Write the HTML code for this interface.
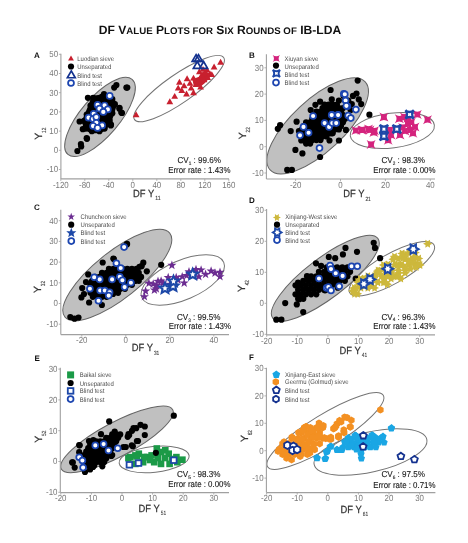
<!DOCTYPE html>
<html><head><meta charset="utf-8"><style>
html,body{margin:0;padding:0;background:#fff;}
body{width:468px;height:543px;overflow:hidden;}
svg{display:block;will-change:transform;}
text{font-family:"Liberation Sans",sans-serif;text-rendering:geometricPrecision;}
.ttl{font-family:"Liberation Sans",sans-serif;font-weight:bold;font-size:12px;fill:#111;}
.pl{font-weight:bold;font-size:8px;fill:#111;}
.tl{font-size:8.9px;fill:#7a7a7a;}
.tk{stroke:#a0a0a0;stroke-width:0.8;}
.ax{stroke:#a0a0a0;stroke-width:1.1;}
.at{font-size:10.4px;fill:#333;stroke:#333;stroke-width:0.25px;}
.sub{font-size:6px;fill:#3a3a3a;stroke:#3a3a3a;stroke-width:0.1px;}
.cv{font-size:8.7px;fill:#1a1a1a;stroke:#1a1a1a;stroke-width:0.12px;}
.csub{font-size:5px;}
.lg{font-size:6.7px;fill:#4a4a4a;}
</style></head><body>
<svg width="468" height="543" viewBox="0 0 468 543">
<rect width="468" height="543" fill="#fff"/>
<text x="98.7" y="34" class="ttl" textLength="242.5" lengthAdjust="spacingAndGlyphs">DF V<tspan font-size="9.6">ALUE</tspan> P<tspan font-size="9.6">LOTS FOR</tspan> S<tspan font-size="9.6">IX</tspan> R<tspan font-size="9.6">OUNDS OF</tspan> IB-LDA</text>
<ellipse cx="100" cy="116.9" rx="49.4" ry="19.3" transform="rotate(-49.5 100 116.9)" fill="#c0c0c0" stroke="#646464" stroke-width="1.0"/>
<ellipse cx="179.1" cy="88.6" rx="54.3" ry="14.1" transform="rotate(-34.85 179.1 88.6)" fill="none" stroke="#747474" stroke-width="1.0"/>
<path d="M93.1 97.8L102.1 96.5L112.3 99.1L114.9 104.2L112.3 113.2L109.7 120.9L104.6 128.6L99.5 131.2L91.8 131.2L85.4 128.6L84.1 120.9L86.7 114.5L90.5 105.5Z" fill="#000" stroke="#000" stroke-width="4" stroke-linejoin="round"/>
<circle cx="93.1" cy="97.8" r="3.1" fill="#000"/>
<circle cx="102.1" cy="96.5" r="3.1" fill="#000"/>
<circle cx="112.3" cy="99.1" r="3.1" fill="#000"/>
<circle cx="114.9" cy="104.2" r="3.1" fill="#000"/>
<circle cx="112.3" cy="113.2" r="3.1" fill="#000"/>
<circle cx="109.7" cy="120.9" r="3.1" fill="#000"/>
<circle cx="104.6" cy="128.6" r="3.1" fill="#000"/>
<circle cx="99.5" cy="131.2" r="3.1" fill="#000"/>
<circle cx="91.8" cy="131.2" r="3.1" fill="#000"/>
<circle cx="85.4" cy="128.6" r="3.1" fill="#000"/>
<circle cx="84.1" cy="120.9" r="3.1" fill="#000"/>
<circle cx="86.7" cy="114.5" r="3.1" fill="#000"/>
<circle cx="90.5" cy="105.5" r="3.1" fill="#000"/>
<circle cx="87.9" cy="97.8" r="3.1" fill="#000"/>
<circle cx="104.0" cy="94.0" r="3.1" fill="#000"/>
<circle cx="114.2" cy="87.6" r="3.1" fill="#000"/>
<circle cx="126.4" cy="87.6" r="3.1" fill="#000"/>
<circle cx="119.4" cy="108.7" r="3.1" fill="#000"/>
<circle cx="121.3" cy="112.6" r="3.1" fill="#000"/>
<circle cx="111.0" cy="124.7" r="3.1" fill="#000"/>
<circle cx="79.6" cy="121.5" r="3.1" fill="#000"/>
<circle cx="82.8" cy="129.2" r="3.1" fill="#000"/>
<circle cx="86.7" cy="138.2" r="3.1" fill="#000"/>
<circle cx="80.9" cy="144.0" r="3.1" fill="#000"/>
<circle cx="116.4" cy="85.1" r="3.1" fill="#000"/>
<circle cx="127.3" cy="87.6" r="3.1" fill="#000"/>
<circle cx="119.5" cy="107.8" r="3.1" fill="#000"/>
<circle cx="122" cy="113" r="3.1" fill="#000"/>
<circle cx="110.8" cy="125.4" r="3.1" fill="#000"/>
<circle cx="87" cy="138.8" r="3.1" fill="#000"/>
<circle cx="81.2" cy="146.5" r="3.1" fill="#000"/>
<circle cx="77.4" cy="151" r="3.1" fill="#000"/>
<circle cx="109.7" cy="95.9" r="3.0" fill="#fff" stroke="#1c45b0" stroke-width="1.7"/>
<circle cx="97.6" cy="104.9" r="3.0" fill="#fff" stroke="#1c45b0" stroke-width="1.7"/>
<circle cx="104.6" cy="105.5" r="3.0" fill="#fff" stroke="#1c45b0" stroke-width="1.7"/>
<circle cx="99.5" cy="108.7" r="3.0" fill="#fff" stroke="#1c45b0" stroke-width="1.7"/>
<circle cx="107.8" cy="109.4" r="3.0" fill="#fff" stroke="#1c45b0" stroke-width="1.7"/>
<circle cx="103.3" cy="111.9" r="3.0" fill="#fff" stroke="#1c45b0" stroke-width="1.7"/>
<circle cx="93.7" cy="113.8" r="3.0" fill="#fff" stroke="#1c45b0" stroke-width="1.7"/>
<circle cx="88.6" cy="117.7" r="3.0" fill="#fff" stroke="#1c45b0" stroke-width="1.7"/>
<circle cx="93.1" cy="119.0" r="3.0" fill="#fff" stroke="#1c45b0" stroke-width="1.7"/>
<circle cx="96.3" cy="117.1" r="3.0" fill="#fff" stroke="#1c45b0" stroke-width="1.7"/>
<circle cx="96.3" cy="122.8" r="3.0" fill="#fff" stroke="#1c45b0" stroke-width="1.7"/>
<circle cx="93.1" cy="126.0" r="3.0" fill="#fff" stroke="#1c45b0" stroke-width="1.7"/>
<circle cx="102.1" cy="125.4" r="3.0" fill="#fff" stroke="#1c45b0" stroke-width="1.7"/>
<circle cx="97.6" cy="127.9" r="3.0" fill="#fff" stroke="#1c45b0" stroke-width="1.7"/>
<path d="M193.5 80.0L199.4 77.6L203.5 72.4L208.2 73.5L208.8 77.6L204.1 82.4L200.6 85.3L194.7 85.3Z" fill="#c8202f" stroke="#c8202f" stroke-width="2" stroke-linejoin="round"/>
<path d="M136.10 111.27L139.50 117.16L132.70 117.16Z" fill="#c8202f"/>
<path d="M169.80 98.27L173.20 104.16L166.40 104.16Z" fill="#c8202f"/>
<path d="M174.70 92.97L178.10 98.86L171.30 98.86Z" fill="#c8202f"/>
<path d="M179.40 78.87L182.80 84.76L176.00 84.76Z" fill="#c8202f"/>
<path d="M178.20 84.67L181.60 90.56L174.80 90.56Z" fill="#c8202f"/>
<path d="M187.10 75.27L190.50 81.16L183.70 81.16Z" fill="#c8202f"/>
<path d="M193.50 74.67L196.90 80.56L190.10 80.56Z" fill="#c8202f"/>
<path d="M186.50 90.57L189.90 96.46L183.10 96.46Z" fill="#c8202f"/>
<path d="M193.50 89.37L196.90 95.26L190.10 95.26Z" fill="#c8202f"/>
<path d="M184.10 82.37L187.50 88.26L180.70 88.26Z" fill="#c8202f"/>
<path d="M190.00 79.97L193.40 85.86L186.60 85.86Z" fill="#c8202f"/>
<path d="M195.90 81.17L199.30 87.06L192.50 87.06Z" fill="#c8202f"/>
<path d="M200.60 83.57L204.00 89.46L197.20 89.46Z" fill="#c8202f"/>
<path d="M198.20 77.67L201.60 83.56L194.80 83.56Z" fill="#c8202f"/>
<path d="M201.80 71.77L205.20 77.66L198.40 77.66Z" fill="#c8202f"/>
<path d="M205.30 69.37L208.70 75.26L201.90 75.26Z" fill="#c8202f"/>
<path d="M207.60 74.07L211.00 79.96L204.20 79.96Z" fill="#c8202f"/>
<path d="M204.10 76.47L207.50 82.36L200.70 82.36Z" fill="#c8202f"/>
<path d="M210.00 70.57L213.40 76.46L206.60 76.46Z" fill="#c8202f"/>
<path d="M211.80 71.17L215.20 77.06L208.40 77.06Z" fill="#c8202f"/>
<path d="M214.10 63.57L217.50 69.46L210.70 69.46Z" fill="#c8202f"/>
<path d="M220.60 58.87L224.00 64.76L217.20 64.76Z" fill="#c8202f"/>
<path d="M199.40 68.27L202.80 74.16L196.00 74.16Z" fill="#c8202f"/>
<path d="M191.20 84.67L194.60 90.56L187.80 90.56Z" fill="#c8202f"/>
<path d="M181.80 87.07L185.20 92.96L178.40 92.96Z" fill="#c8202f"/>
<path d="M207.00 66.47L210.40 72.36L203.60 72.36Z" fill="#c8202f"/>
<path d="M203.00 65.97L206.40 71.86L199.60 71.86Z" fill="#c8202f"/>
<path d="M196.10 54.60L200.05 61.44L192.15 61.44Z" fill="none" stroke="#13318f" stroke-width="1.7" stroke-linejoin="miter"/>
<path d="M198.50 54.60L202.45 61.44L194.55 61.44Z" fill="none" stroke="#13318f" stroke-width="1.7" stroke-linejoin="miter"/>
<path d="M197.30 61.50L201.25 68.34L193.35 68.34Z" fill="none" stroke="#13318f" stroke-width="1.7" stroke-linejoin="miter"/>
<path d="M203.60 61.50L207.55 68.34L199.65 68.34Z" fill="none" stroke="#13318f" stroke-width="1.7" stroke-linejoin="miter"/>
<path d="M71.00 55.59L73.90 60.61L68.10 60.61Z" fill="#c8202f"/>
<circle cx="71" cy="66.5" r="3.1" fill="#000"/>
<path d="M71.30 70.90L75.25 77.74L67.35 77.74Z" fill="none" stroke="#13318f" stroke-width="1.7" stroke-linejoin="miter"/>
<circle cx="71" cy="83" r="2.95" fill="#fff" stroke="#1c45b0" stroke-width="1.75"/>
<text x="77.3" y="61.1" class="lg" textLength="36.7" lengthAdjust="spacingAndGlyphs">Luodian sieve</text>
<text x="77.3" y="69.0" class="lg" textLength="34.1" lengthAdjust="spacingAndGlyphs">Unseparated</text>
<text x="77.3" y="77.5" class="lg" textLength="24.5" lengthAdjust="spacingAndGlyphs">Blind test</text>
<text x="77.3" y="85.5" class="lg" textLength="24.5" lengthAdjust="spacingAndGlyphs">Blind test</text>
<ellipse cx="317.65" cy="125.9" rx="64.8" ry="26" transform="rotate(-42.8 317.65 125.9)" fill="#c0c0c0" stroke="#646464" stroke-width="1.0"/>
<ellipse cx="392.3" cy="130.5" rx="42.4" ry="17.3" transform="rotate(-7.3 392.3 130.5)" fill="none" stroke="#747474" stroke-width="1.0"/>
<circle cx="324.6" cy="104.6" r="3.1" fill="#000"/>
<circle cx="328.7" cy="104.6" r="3.1" fill="#000"/>
<circle cx="332.8" cy="104.6" r="3.1" fill="#000"/>
<circle cx="336.9" cy="104.6" r="3.1" fill="#000"/>
<circle cx="322.5" cy="108.1" r="3.1" fill="#000"/>
<circle cx="326.6" cy="108.1" r="3.1" fill="#000"/>
<circle cx="330.7" cy="108.1" r="3.1" fill="#000"/>
<circle cx="334.8" cy="108.1" r="3.1" fill="#000"/>
<circle cx="338.9" cy="108.1" r="3.1" fill="#000"/>
<circle cx="343.0" cy="108.1" r="3.1" fill="#000"/>
<circle cx="316.4" cy="111.7" r="3.1" fill="#000"/>
<circle cx="320.5" cy="111.7" r="3.1" fill="#000"/>
<circle cx="324.6" cy="111.7" r="3.1" fill="#000"/>
<circle cx="328.7" cy="111.7" r="3.1" fill="#000"/>
<circle cx="332.8" cy="111.7" r="3.1" fill="#000"/>
<circle cx="336.9" cy="111.7" r="3.1" fill="#000"/>
<circle cx="341.0" cy="111.7" r="3.1" fill="#000"/>
<circle cx="314.3" cy="115.2" r="3.1" fill="#000"/>
<circle cx="318.4" cy="115.2" r="3.1" fill="#000"/>
<circle cx="322.5" cy="115.2" r="3.1" fill="#000"/>
<circle cx="326.6" cy="115.2" r="3.1" fill="#000"/>
<circle cx="330.7" cy="115.2" r="3.1" fill="#000"/>
<circle cx="334.8" cy="115.2" r="3.1" fill="#000"/>
<circle cx="338.9" cy="115.2" r="3.1" fill="#000"/>
<circle cx="343.0" cy="115.2" r="3.1" fill="#000"/>
<circle cx="312.3" cy="118.8" r="3.1" fill="#000"/>
<circle cx="316.4" cy="118.8" r="3.1" fill="#000"/>
<circle cx="320.5" cy="118.8" r="3.1" fill="#000"/>
<circle cx="324.6" cy="118.8" r="3.1" fill="#000"/>
<circle cx="328.7" cy="118.8" r="3.1" fill="#000"/>
<circle cx="332.8" cy="118.8" r="3.1" fill="#000"/>
<circle cx="336.9" cy="118.8" r="3.1" fill="#000"/>
<circle cx="341.0" cy="118.8" r="3.1" fill="#000"/>
<circle cx="345.1" cy="118.8" r="3.1" fill="#000"/>
<circle cx="306.1" cy="122.3" r="3.1" fill="#000"/>
<circle cx="310.2" cy="122.3" r="3.1" fill="#000"/>
<circle cx="314.3" cy="122.3" r="3.1" fill="#000"/>
<circle cx="318.4" cy="122.3" r="3.1" fill="#000"/>
<circle cx="322.5" cy="122.3" r="3.1" fill="#000"/>
<circle cx="326.6" cy="122.3" r="3.1" fill="#000"/>
<circle cx="330.7" cy="122.3" r="3.1" fill="#000"/>
<circle cx="334.8" cy="122.3" r="3.1" fill="#000"/>
<circle cx="338.9" cy="122.3" r="3.1" fill="#000"/>
<circle cx="343.0" cy="122.3" r="3.1" fill="#000"/>
<circle cx="304.1" cy="125.9" r="3.1" fill="#000"/>
<circle cx="308.2" cy="125.9" r="3.1" fill="#000"/>
<circle cx="312.3" cy="125.9" r="3.1" fill="#000"/>
<circle cx="316.4" cy="125.9" r="3.1" fill="#000"/>
<circle cx="320.5" cy="125.9" r="3.1" fill="#000"/>
<circle cx="324.6" cy="125.9" r="3.1" fill="#000"/>
<circle cx="328.7" cy="125.9" r="3.1" fill="#000"/>
<circle cx="332.8" cy="125.9" r="3.1" fill="#000"/>
<circle cx="336.9" cy="125.9" r="3.1" fill="#000"/>
<circle cx="341.0" cy="125.9" r="3.1" fill="#000"/>
<circle cx="302.0" cy="129.4" r="3.1" fill="#000"/>
<circle cx="306.1" cy="129.4" r="3.1" fill="#000"/>
<circle cx="310.2" cy="129.4" r="3.1" fill="#000"/>
<circle cx="314.3" cy="129.4" r="3.1" fill="#000"/>
<circle cx="318.4" cy="129.4" r="3.1" fill="#000"/>
<circle cx="322.5" cy="129.4" r="3.1" fill="#000"/>
<circle cx="326.6" cy="129.4" r="3.1" fill="#000"/>
<circle cx="330.7" cy="129.4" r="3.1" fill="#000"/>
<circle cx="334.8" cy="129.4" r="3.1" fill="#000"/>
<circle cx="338.9" cy="129.4" r="3.1" fill="#000"/>
<circle cx="299.9" cy="133.0" r="3.1" fill="#000"/>
<circle cx="304.1" cy="133.0" r="3.1" fill="#000"/>
<circle cx="308.2" cy="133.0" r="3.1" fill="#000"/>
<circle cx="312.3" cy="133.0" r="3.1" fill="#000"/>
<circle cx="316.4" cy="133.0" r="3.1" fill="#000"/>
<circle cx="320.5" cy="133.0" r="3.1" fill="#000"/>
<circle cx="324.6" cy="133.0" r="3.1" fill="#000"/>
<circle cx="328.7" cy="133.0" r="3.1" fill="#000"/>
<circle cx="332.8" cy="133.0" r="3.1" fill="#000"/>
<circle cx="302.0" cy="136.5" r="3.1" fill="#000"/>
<circle cx="306.1" cy="136.5" r="3.1" fill="#000"/>
<circle cx="310.2" cy="136.5" r="3.1" fill="#000"/>
<circle cx="314.3" cy="136.5" r="3.1" fill="#000"/>
<circle cx="318.4" cy="136.5" r="3.1" fill="#000"/>
<circle cx="322.5" cy="136.5" r="3.1" fill="#000"/>
<circle cx="326.6" cy="136.5" r="3.1" fill="#000"/>
<circle cx="304.1" cy="140.1" r="3.1" fill="#000"/>
<circle cx="308.2" cy="140.1" r="3.1" fill="#000"/>
<circle cx="312.3" cy="140.1" r="3.1" fill="#000"/>
<circle cx="316.4" cy="140.1" r="3.1" fill="#000"/>
<circle cx="320.5" cy="140.1" r="3.1" fill="#000"/>
<circle cx="306.1" cy="143.6" r="3.1" fill="#000"/>
<circle cx="310.2" cy="143.6" r="3.1" fill="#000"/>
<circle cx="315.4" cy="104.8" r="3.1" fill="#000"/>
<circle cx="324.8" cy="105.3" r="3.1" fill="#000"/>
<circle cx="331.8" cy="99.4" r="3.1" fill="#000"/>
<circle cx="330.6" cy="90.0" r="3.1" fill="#000"/>
<circle cx="356.5" cy="93.5" r="3.1" fill="#000"/>
<circle cx="358.8" cy="99.4" r="3.1" fill="#000"/>
<circle cx="353.0" cy="95.9" r="3.1" fill="#000"/>
<circle cx="361.2" cy="104.1" r="3.1" fill="#000"/>
<circle cx="369.4" cy="114.7" r="3.1" fill="#000"/>
<circle cx="280.1" cy="125.2" r="3.1" fill="#000"/>
<circle cx="277.8" cy="128.8" r="3.1" fill="#000"/>
<circle cx="290.7" cy="131.1" r="3.1" fill="#000"/>
<circle cx="296.6" cy="121.7" r="3.1" fill="#000"/>
<circle cx="295.4" cy="149.9" r="3.1" fill="#000"/>
<circle cx="302.4" cy="153.4" r="3.1" fill="#000"/>
<circle cx="320.1" cy="157.0" r="3.1" fill="#000"/>
<circle cx="287.2" cy="169.9" r="3.1" fill="#000"/>
<circle cx="291.9" cy="169.9" r="3.1" fill="#000"/>
<circle cx="329.5" cy="140.5" r="3.1" fill="#000"/>
<circle cx="338.9" cy="140.5" r="3.1" fill="#000"/>
<circle cx="345.9" cy="129.9" r="3.1" fill="#000"/>
<circle cx="357.7" cy="80.6" r="3.1" fill="#000"/>
<circle cx="350.6" cy="110.0" r="3.1" fill="#000"/>
<circle cx="341.2" cy="112.3" r="3.1" fill="#000"/>
<circle cx="324.8" cy="114.7" r="3.1" fill="#000"/>
<circle cx="313.0" cy="119.4" r="3.1" fill="#000"/>
<circle cx="306.0" cy="124.1" r="3.1" fill="#000"/>
<circle cx="298.9" cy="131.1" r="3.1" fill="#000"/>
<circle cx="301.3" cy="140.5" r="3.1" fill="#000"/>
<circle cx="308.3" cy="138.2" r="3.1" fill="#000"/>
<circle cx="320.1" cy="135.8" r="3.1" fill="#000"/>
<circle cx="331.8" cy="133.5" r="3.1" fill="#000"/>
<circle cx="336.5" cy="128.8" r="3.1" fill="#000"/>
<circle cx="317.7" cy="128.8" r="3.1" fill="#000"/>
<circle cx="327.1" cy="124.1" r="3.1" fill="#000"/>
<circle cx="310.7" cy="110.0" r="3.1" fill="#000"/>
<circle cx="320.1" cy="101.7" r="3.1" fill="#000"/>
<circle cx="338.9" cy="100.6" r="3.1" fill="#000"/>
<circle cx="348.3" cy="100.6" r="3.1" fill="#000"/>
<circle cx="351.8" cy="104.1" r="3.1" fill="#000"/>
<circle cx="343.6" cy="95.9" r="3.1" fill="#000"/>
<circle cx="343.8" cy="93.7" r="2.95" fill="#fff" stroke="#1c45b0" stroke-width="1.75"/>
<circle cx="344.8" cy="94.2" r="2.95" fill="#fff" stroke="#1c45b0" stroke-width="1.75"/>
<circle cx="345.6" cy="100.5" r="2.95" fill="#fff" stroke="#1c45b0" stroke-width="1.75"/>
<circle cx="347.4" cy="106.2" r="2.95" fill="#fff" stroke="#1c45b0" stroke-width="1.75"/>
<circle cx="355.9" cy="109.6" r="2.95" fill="#fff" stroke="#1c45b0" stroke-width="1.75"/>
<circle cx="332" cy="114.7" r="2.95" fill="#fff" stroke="#1c45b0" stroke-width="1.75"/>
<circle cx="338" cy="114.7" r="2.95" fill="#fff" stroke="#1c45b0" stroke-width="1.75"/>
<circle cx="348.2" cy="115.6" r="2.95" fill="#fff" stroke="#1c45b0" stroke-width="1.75"/>
<circle cx="350.8" cy="118.1" r="2.95" fill="#fff" stroke="#1c45b0" stroke-width="1.75"/>
<circle cx="313.1" cy="116" r="2.95" fill="#fff" stroke="#1c45b0" stroke-width="1.75"/>
<circle cx="303.5" cy="126.9" r="2.95" fill="#fff" stroke="#1c45b0" stroke-width="1.75"/>
<circle cx="308.6" cy="132.7" r="2.95" fill="#fff" stroke="#1c45b0" stroke-width="1.75"/>
<circle cx="300" cy="135.3" r="2.95" fill="#fff" stroke="#1c45b0" stroke-width="1.75"/>
<circle cx="319.5" cy="148.1" r="2.95" fill="#fff" stroke="#1c45b0" stroke-width="1.75"/>
<circle cx="324.6" cy="123.1" r="2.95" fill="#fff" stroke="#1c45b0" stroke-width="1.75"/>
<circle cx="329.1" cy="126.9" r="2.95" fill="#fff" stroke="#1c45b0" stroke-width="1.75"/>
<circle cx="332.3" cy="123.1" r="2.95" fill="#fff" stroke="#1c45b0" stroke-width="1.75"/>
<circle cx="336.2" cy="123.1" r="2.95" fill="#fff" stroke="#1c45b0" stroke-width="1.75"/>
<circle cx="331.7" cy="115.1" r="2.95" fill="#fff" stroke="#1c45b0" stroke-width="1.75"/>
<circle cx="338.1" cy="115.1" r="2.95" fill="#fff" stroke="#1c45b0" stroke-width="1.75"/>
<circle cx="346.4" cy="105.8" r="2.95" fill="#fff" stroke="#1c45b0" stroke-width="1.75"/>
<path d="M379.40 112.60Q383.90 115.97 388.40 112.60Q385.02 117.10 388.40 121.60Q383.90 118.22 379.40 121.60Q382.77 117.10 379.40 112.60Z" fill="#d4237d"/>
<path d="M412.80 110.00Q417.30 113.38 421.80 110.00Q418.43 114.50 421.80 119.00Q417.30 115.62 412.80 119.00Q416.18 114.50 412.80 110.00Z" fill="#d4237d"/>
<path d="M423.00 115.20Q427.50 118.58 432.00 115.20Q428.62 119.70 432.00 124.20Q427.50 120.83 423.00 124.20Q426.38 119.70 423.00 115.20Z" fill="#d4237d"/>
<path d="M394.80 114.30Q399.30 117.67 403.80 114.30Q400.43 118.80 403.80 123.30Q399.30 119.92 394.80 123.30Q398.18 118.80 394.80 114.30Z" fill="#d4237d"/>
<path d="M399.90 112.60Q404.40 115.97 408.90 112.60Q405.52 117.10 408.90 121.60Q404.40 118.22 399.90 121.60Q403.27 117.10 399.90 112.60Z" fill="#d4237d"/>
<path d="M403.40 119.40Q407.90 122.78 412.40 119.40Q409.02 123.90 412.40 128.40Q407.90 125.03 403.40 128.40Q406.77 123.90 403.40 119.40Z" fill="#d4237d"/>
<path d="M406.80 117.70Q411.30 121.08 415.80 117.70Q412.43 122.20 415.80 126.70Q411.30 123.33 406.80 126.70Q410.18 122.20 406.80 117.70Z" fill="#d4237d"/>
<path d="M398.20 122.90Q402.70 126.28 407.20 122.90Q403.82 127.40 407.20 131.90Q402.70 128.53 398.20 131.90Q401.57 127.40 398.20 122.90Z" fill="#d4237d"/>
<path d="M408.50 128.80Q413.00 132.18 417.50 128.80Q414.12 133.30 417.50 137.80Q413.00 134.43 408.50 137.80Q411.88 133.30 408.50 128.80Z" fill="#d4237d"/>
<path d="M405.90 125.40Q410.40 128.78 414.90 125.40Q411.52 129.90 414.90 134.40Q410.40 131.03 405.90 134.40Q409.27 129.90 405.90 125.40Z" fill="#d4237d"/>
<path d="M370.00 126.30Q374.50 129.68 379.00 126.30Q375.62 130.80 379.00 135.30Q374.50 131.93 370.00 135.30Q373.38 130.80 370.00 126.30Z" fill="#d4237d"/>
<path d="M364.00 124.60Q368.50 127.97 373.00 124.60Q369.62 129.10 373.00 133.60Q368.50 130.22 364.00 133.60Q367.38 129.10 364.00 124.60Z" fill="#d4237d"/>
<path d="M358.10 125.40Q362.60 128.78 367.10 125.40Q363.73 129.90 367.10 134.40Q362.60 131.03 358.10 134.40Q361.48 129.90 358.10 125.40Z" fill="#d4237d"/>
<path d="M385.40 125.40Q389.90 128.78 394.40 125.40Q391.02 129.90 394.40 134.40Q389.90 131.03 385.40 134.40Q388.77 129.90 385.40 125.40Z" fill="#d4237d"/>
<path d="M383.70 135.70Q388.20 139.07 392.70 135.70Q389.32 140.20 392.70 144.70Q388.20 141.32 383.70 144.70Q387.07 140.20 383.70 135.70Z" fill="#d4237d"/>
<path d="M366.60 139.90Q371.10 143.28 375.60 139.90Q372.23 144.40 375.60 148.90Q371.10 145.53 366.60 148.90Q369.98 144.40 366.60 139.90Z" fill="#d4237d"/>
<path d="M393.10 124.60Q397.60 127.97 402.10 124.60Q398.73 129.10 402.10 133.60Q397.60 130.22 393.10 133.60Q396.48 129.10 393.10 124.60Z" fill="#d4237d"/>
<path d="M351.40 126.00Q355.90 129.38 360.40 126.00Q357.02 130.50 360.40 135.00Q355.90 131.62 351.40 135.00Q354.77 130.50 351.40 126.00Z" fill="#d4237d"/>
<path d="M357.20 125.40Q361.70 128.78 366.20 125.40Q362.82 129.90 366.20 134.40Q361.70 131.03 357.20 134.40Q360.57 129.90 357.20 125.40Z" fill="#d4237d"/>
<path d="M365.50 125.40Q370.00 128.78 374.50 125.40Q371.12 129.90 374.50 134.40Q370.00 131.03 365.50 134.40Q368.88 129.90 365.50 125.40Z" fill="#d4237d"/>
<path d="M369.30 127.90Q373.80 131.28 378.30 127.90Q374.93 132.40 378.30 136.90Q373.80 133.53 369.30 136.90Q372.68 132.40 369.30 127.90Z" fill="#d4237d"/>
<path d="M400.50 126.50Q405.00 129.88 409.50 126.50Q406.12 131.00 409.50 135.50Q405.00 132.12 400.50 135.50Q403.88 131.00 400.50 126.50Z" fill="#d4237d"/>
<path d="M410.50 122.50Q415.00 125.88 419.50 122.50Q416.12 127.00 419.50 131.50Q415.00 128.12 410.50 131.50Q413.88 127.00 410.50 122.50Z" fill="#d4237d"/>
<path d="M403.50 113.50Q408.00 116.88 412.50 113.50Q409.12 118.00 412.50 122.50Q408.00 119.12 403.50 122.50Q406.88 118.00 403.50 113.50Z" fill="#d4237d"/>
<path d="M386.50 130.50Q391.00 133.88 395.50 130.50Q392.12 135.00 395.50 139.50Q391.00 136.12 386.50 139.50Q389.88 135.00 386.50 130.50Z" fill="#d4237d"/>
<path d="M395.50 130.50Q400.00 133.88 404.50 130.50Q401.12 135.00 404.50 139.50Q400.00 136.12 395.50 139.50Q398.88 135.00 395.50 130.50Z" fill="#d4237d"/>
<path d="M405.40 110.30Q409.60 113.66 413.80 110.30Q410.44 114.50 413.80 118.70Q409.60 115.34 405.40 118.70Q408.76 114.50 405.40 110.30Z" fill="#fff" stroke="#1d48a8" stroke-width="2.3"/>
<path d="M379.70 124.90Q383.90 128.26 388.10 124.90Q384.74 129.10 388.10 133.30Q383.90 129.94 379.70 133.30Q383.06 129.10 379.70 124.90Z" fill="#fff" stroke="#1d48a8" stroke-width="2.3"/>
<path d="M379.70 132.00Q383.90 135.36 388.10 132.00Q384.74 136.20 388.10 140.40Q383.90 137.04 379.70 140.40Q383.06 136.20 379.70 132.00Z" fill="#fff" stroke="#1d48a8" stroke-width="2.3"/>
<path d="M392.60 124.90Q396.80 128.26 401.00 124.90Q397.64 129.10 401.00 133.30Q396.80 129.94 392.60 133.30Q395.96 129.10 392.60 124.90Z" fill="#fff" stroke="#1d48a8" stroke-width="2.3"/>
<path d="M272.70 54.90Q276.30 57.42 279.90 54.90Q277.38 58.50 279.90 62.10Q276.30 59.58 272.70 62.10Q275.22 58.50 272.70 54.90Z" fill="#d4237d"/>
<circle cx="276" cy="65.6" r="3.1" fill="#000"/>
<path d="M272.80 69.80Q276.40 72.68 280.00 69.80Q277.12 73.40 280.00 77.00Q276.40 74.12 272.80 77.00Q275.68 73.40 272.80 69.80Z" fill="#fff" stroke="#1d48a8" stroke-width="2.0"/>
<circle cx="276" cy="82.6" r="2.95" fill="#fff" stroke="#1c45b0" stroke-width="1.75"/>
<text x="284.6" y="61.0" class="lg" textLength="33.7" lengthAdjust="spacingAndGlyphs">Xiuyan sieve</text>
<text x="284.6" y="68.5" class="lg" textLength="34.1" lengthAdjust="spacingAndGlyphs">Unseparated</text>
<text x="284.6" y="76.5" class="lg" textLength="24.5" lengthAdjust="spacingAndGlyphs">Blind test</text>
<text x="284.6" y="84.8" class="lg" textLength="24.5" lengthAdjust="spacingAndGlyphs">Blind test</text>
<ellipse cx="117.3" cy="275" rx="67.1" ry="23.3" transform="rotate(-38.6 117.3 275)" fill="#c0c0c0" stroke="#646464" stroke-width="1.0"/>
<ellipse cx="182.8" cy="280" rx="44.6" ry="19.6" transform="rotate(-23.3 182.8 280)" fill="none" stroke="#747474" stroke-width="1.0"/>
<circle cx="108.9" cy="268.9" r="3.1" fill="#000"/>
<circle cx="113.5" cy="268.9" r="3.1" fill="#000"/>
<circle cx="118.1" cy="268.9" r="3.1" fill="#000"/>
<circle cx="122.7" cy="268.9" r="3.1" fill="#000"/>
<circle cx="127.3" cy="268.9" r="3.1" fill="#000"/>
<circle cx="131.9" cy="268.9" r="3.1" fill="#000"/>
<circle cx="136.5" cy="268.9" r="3.1" fill="#000"/>
<circle cx="102.0" cy="272.9" r="3.1" fill="#000"/>
<circle cx="106.6" cy="272.9" r="3.1" fill="#000"/>
<circle cx="111.2" cy="272.9" r="3.1" fill="#000"/>
<circle cx="115.8" cy="272.9" r="3.1" fill="#000"/>
<circle cx="120.4" cy="272.9" r="3.1" fill="#000"/>
<circle cx="125.0" cy="272.9" r="3.1" fill="#000"/>
<circle cx="129.6" cy="272.9" r="3.1" fill="#000"/>
<circle cx="134.2" cy="272.9" r="3.1" fill="#000"/>
<circle cx="138.8" cy="272.9" r="3.1" fill="#000"/>
<circle cx="95.1" cy="276.9" r="3.1" fill="#000"/>
<circle cx="99.7" cy="276.9" r="3.1" fill="#000"/>
<circle cx="104.3" cy="276.9" r="3.1" fill="#000"/>
<circle cx="108.9" cy="276.9" r="3.1" fill="#000"/>
<circle cx="113.5" cy="276.9" r="3.1" fill="#000"/>
<circle cx="118.1" cy="276.9" r="3.1" fill="#000"/>
<circle cx="122.7" cy="276.9" r="3.1" fill="#000"/>
<circle cx="127.3" cy="276.9" r="3.1" fill="#000"/>
<circle cx="131.9" cy="276.9" r="3.1" fill="#000"/>
<circle cx="136.5" cy="276.9" r="3.1" fill="#000"/>
<circle cx="141.1" cy="276.9" r="3.1" fill="#000"/>
<circle cx="92.8" cy="280.8" r="3.1" fill="#000"/>
<circle cx="97.4" cy="280.8" r="3.1" fill="#000"/>
<circle cx="102.0" cy="280.8" r="3.1" fill="#000"/>
<circle cx="106.6" cy="280.8" r="3.1" fill="#000"/>
<circle cx="111.2" cy="280.8" r="3.1" fill="#000"/>
<circle cx="115.8" cy="280.8" r="3.1" fill="#000"/>
<circle cx="120.4" cy="280.8" r="3.1" fill="#000"/>
<circle cx="125.0" cy="280.8" r="3.1" fill="#000"/>
<circle cx="129.6" cy="280.8" r="3.1" fill="#000"/>
<circle cx="134.2" cy="280.8" r="3.1" fill="#000"/>
<circle cx="138.8" cy="280.8" r="3.1" fill="#000"/>
<circle cx="90.5" cy="284.8" r="3.1" fill="#000"/>
<circle cx="95.1" cy="284.8" r="3.1" fill="#000"/>
<circle cx="99.7" cy="284.8" r="3.1" fill="#000"/>
<circle cx="104.3" cy="284.8" r="3.1" fill="#000"/>
<circle cx="108.9" cy="284.8" r="3.1" fill="#000"/>
<circle cx="113.5" cy="284.8" r="3.1" fill="#000"/>
<circle cx="118.1" cy="284.8" r="3.1" fill="#000"/>
<circle cx="122.7" cy="284.8" r="3.1" fill="#000"/>
<circle cx="127.3" cy="284.8" r="3.1" fill="#000"/>
<circle cx="131.9" cy="284.8" r="3.1" fill="#000"/>
<circle cx="92.8" cy="288.8" r="3.1" fill="#000"/>
<circle cx="97.4" cy="288.8" r="3.1" fill="#000"/>
<circle cx="102.0" cy="288.8" r="3.1" fill="#000"/>
<circle cx="106.6" cy="288.8" r="3.1" fill="#000"/>
<circle cx="111.2" cy="288.8" r="3.1" fill="#000"/>
<circle cx="115.8" cy="288.8" r="3.1" fill="#000"/>
<circle cx="120.4" cy="288.8" r="3.1" fill="#000"/>
<circle cx="125.0" cy="288.8" r="3.1" fill="#000"/>
<circle cx="90.5" cy="292.8" r="3.1" fill="#000"/>
<circle cx="95.1" cy="292.8" r="3.1" fill="#000"/>
<circle cx="99.7" cy="292.8" r="3.1" fill="#000"/>
<circle cx="104.3" cy="292.8" r="3.1" fill="#000"/>
<circle cx="108.9" cy="292.8" r="3.1" fill="#000"/>
<circle cx="113.5" cy="292.8" r="3.1" fill="#000"/>
<circle cx="118.1" cy="292.8" r="3.1" fill="#000"/>
<circle cx="92.8" cy="296.8" r="3.1" fill="#000"/>
<circle cx="97.4" cy="296.8" r="3.1" fill="#000"/>
<circle cx="102.0" cy="296.8" r="3.1" fill="#000"/>
<circle cx="106.6" cy="296.8" r="3.1" fill="#000"/>
<circle cx="126.7" cy="244.5" r="3.1" fill="#000"/>
<circle cx="127.1" cy="243.9" r="3.1" fill="#000"/>
<circle cx="102.7" cy="262.5" r="3.1" fill="#000"/>
<circle cx="113.8" cy="259.1" r="3.1" fill="#000"/>
<circle cx="88.2" cy="274.4" r="3.1" fill="#000"/>
<circle cx="82.2" cy="288.1" r="3.1" fill="#000"/>
<circle cx="139.5" cy="266.8" r="3.1" fill="#000"/>
<circle cx="81.4" cy="297.4" r="3.1" fill="#000"/>
<circle cx="89.1" cy="302.5" r="3.1" fill="#000"/>
<circle cx="101.9" cy="305" r="3.1" fill="#000"/>
<circle cx="70.3" cy="317" r="3.1" fill="#000"/>
<circle cx="74.5" cy="318.7" r="3.1" fill="#000"/>
<circle cx="78.5" cy="317.5" r="3.1" fill="#000"/>
<circle cx="143.3" cy="262.7" r="3.1" fill="#000"/>
<circle cx="141.6" cy="266.2" r="3.1" fill="#000"/>
<circle cx="146.8" cy="271.3" r="3.1" fill="#000"/>
<circle cx="161.2" cy="264.8" r="3.1" fill="#000"/>
<circle cx="113.4" cy="258.5" r="3.1" fill="#000"/>
<circle cx="92" cy="281" r="3.1" fill="#000"/>
<circle cx="108" cy="282" r="3.1" fill="#000"/>
<circle cx="131" cy="279" r="3.1" fill="#000"/>
<circle cx="120" cy="284" r="3.1" fill="#000"/>
<circle cx="106" cy="296" r="3.1" fill="#000"/>
<circle cx="86" cy="282" r="3.1" fill="#000"/>
<circle cx="84" cy="294" r="3.1" fill="#000"/>
<circle cx="113" cy="294" r="3.1" fill="#000"/>
<circle cx="135" cy="281" r="3.1" fill="#000"/>
<circle cx="124.1" cy="247.1" r="2.95" fill="#fff" stroke="#1c45b0" stroke-width="1.75"/>
<circle cx="116.4" cy="263.3" r="2.95" fill="#fff" stroke="#1c45b0" stroke-width="1.75"/>
<circle cx="120.7" cy="268" r="2.95" fill="#fff" stroke="#1c45b0" stroke-width="1.75"/>
<circle cx="94.2" cy="277.2" r="2.95" fill="#fff" stroke="#1c45b0" stroke-width="1.75"/>
<circle cx="99.7" cy="279.4" r="2.95" fill="#fff" stroke="#1c45b0" stroke-width="1.75"/>
<circle cx="112.1" cy="279.4" r="2.95" fill="#fff" stroke="#1c45b0" stroke-width="1.75"/>
<circle cx="119.8" cy="276.8" r="2.95" fill="#fff" stroke="#1c45b0" stroke-width="1.75"/>
<circle cx="122.4" cy="280.3" r="2.95" fill="#fff" stroke="#1c45b0" stroke-width="1.75"/>
<circle cx="130.9" cy="282.8" r="2.95" fill="#fff" stroke="#1c45b0" stroke-width="1.75"/>
<circle cx="124.6" cy="287.1" r="2.95" fill="#fff" stroke="#1c45b0" stroke-width="1.75"/>
<circle cx="89.9" cy="288.8" r="2.95" fill="#fff" stroke="#1c45b0" stroke-width="1.75"/>
<circle cx="100.2" cy="290.5" r="2.95" fill="#fff" stroke="#1c45b0" stroke-width="1.75"/>
<circle cx="104.8" cy="290.5" r="2.95" fill="#fff" stroke="#1c45b0" stroke-width="1.75"/>
<circle cx="109.6" cy="292.2" r="2.95" fill="#fff" stroke="#1c45b0" stroke-width="1.75"/>
<circle cx="108.7" cy="295.6" r="2.95" fill="#fff" stroke="#1c45b0" stroke-width="1.75"/>
<circle cx="98.5" cy="300.8" r="2.95" fill="#fff" stroke="#1c45b0" stroke-width="1.75"/>
<path d="M171.90 260.50L173.02 263.76L176.47 263.82L173.71 265.89L174.72 269.18L171.90 267.20L169.08 269.18L170.09 265.89L167.33 263.82L170.78 263.76Z" fill="#6b2c91"/>
<path d="M148.90 278.50L150.02 281.76L153.47 281.82L150.71 283.89L151.72 287.18L148.90 285.20L146.08 287.18L147.09 283.89L144.33 281.82L147.78 281.76Z" fill="#6b2c91"/>
<path d="M145.60 286.30L146.72 289.56L150.17 289.62L147.41 291.69L148.42 294.98L145.60 293.00L142.78 294.98L143.79 291.69L141.03 289.62L144.48 289.56Z" fill="#6b2c91"/>
<path d="M144.40 291.90L145.52 295.16L148.97 295.22L146.21 297.29L147.22 300.58L144.40 298.60L141.58 300.58L142.59 297.29L139.83 295.22L143.28 295.16Z" fill="#6b2c91"/>
<path d="M156.70 280.80L157.82 284.06L161.27 284.12L158.51 286.19L159.52 289.48L156.70 287.50L153.88 289.48L154.89 286.19L152.13 284.12L155.58 284.06Z" fill="#6b2c91"/>
<path d="M161.10 276.30L162.22 279.56L165.67 279.62L162.91 281.69L163.92 284.98L161.10 283.00L158.28 284.98L159.29 281.69L156.53 279.62L159.98 279.56Z" fill="#6b2c91"/>
<path d="M168.20 272.80L169.32 276.06L172.77 276.12L170.01 278.19L171.02 281.48L168.20 279.50L165.38 281.48L166.39 278.19L163.63 276.12L167.08 276.06Z" fill="#6b2c91"/>
<path d="M176.20 272.80L177.32 276.06L180.77 276.12L178.01 278.19L179.02 281.48L176.20 279.50L173.38 281.48L174.39 278.19L171.63 276.12L175.08 276.06Z" fill="#6b2c91"/>
<path d="M182.20 271.90L183.32 275.16L186.77 275.22L184.01 277.29L185.02 280.58L182.20 278.60L179.38 280.58L180.39 277.29L177.63 275.22L181.08 275.16Z" fill="#6b2c91"/>
<path d="M184.20 278.20L185.32 281.46L188.77 281.52L186.01 283.59L187.02 286.88L184.20 284.90L181.38 286.88L182.39 283.59L179.63 281.52L183.08 281.46Z" fill="#6b2c91"/>
<path d="M186.70 270.80L187.82 274.06L191.27 274.12L188.51 276.19L189.52 279.48L186.70 277.50L183.88 279.48L184.89 276.19L182.13 274.12L185.58 274.06Z" fill="#6b2c91"/>
<path d="M194.40 267.40L195.52 270.66L198.97 270.72L196.21 272.79L197.22 276.08L194.40 274.10L191.58 276.08L192.59 272.79L189.83 270.72L193.28 270.66Z" fill="#6b2c91"/>
<path d="M201.10 265.20L202.22 268.46L205.67 268.52L202.91 270.59L203.92 273.88L201.10 271.90L198.28 273.88L199.29 270.59L196.53 268.52L199.98 268.46Z" fill="#6b2c91"/>
<path d="M205.60 269.60L206.72 272.86L210.17 272.92L207.41 274.99L208.42 278.28L205.60 276.30L202.78 278.28L203.79 274.99L201.03 272.92L204.48 272.86Z" fill="#6b2c91"/>
<path d="M211.10 266.30L212.22 269.56L215.67 269.62L212.91 271.69L213.92 274.98L211.10 273.00L208.28 274.98L209.29 271.69L206.53 269.62L209.98 269.56Z" fill="#6b2c91"/>
<path d="M220.00 267.40L221.12 270.66L224.57 270.72L221.81 272.79L222.82 276.08L220.00 274.10L217.18 276.08L218.19 272.79L215.43 270.72L218.88 270.66Z" fill="#6b2c91"/>
<path d="M220.00 271.90L221.12 275.16L224.57 275.22L221.81 277.29L222.82 280.58L220.00 278.60L217.18 280.58L218.19 277.29L215.43 275.22L218.88 275.16Z" fill="#6b2c91"/>
<path d="M198.90 271.90L200.02 275.16L203.47 275.22L200.71 277.29L201.72 280.58L198.90 278.60L196.08 280.58L197.09 277.29L194.33 275.22L197.78 275.16Z" fill="#6b2c91"/>
<path d="M154.40 285.20L155.52 288.46L158.97 288.52L156.21 290.59L157.22 293.88L154.40 291.90L151.58 293.88L152.59 290.59L149.83 288.52L153.28 288.46Z" fill="#6b2c91"/>
<path d="M170.00 279.60L171.12 282.86L174.57 282.92L171.81 284.99L172.82 288.28L170.00 286.30L167.18 288.28L168.19 284.99L165.43 282.92L168.88 282.86Z" fill="#6b2c91"/>
<path d="M158.00 276.60L159.12 279.86L162.57 279.92L159.81 281.99L160.82 285.28L158.00 283.30L155.18 285.28L156.19 281.99L153.43 279.92L156.88 279.86Z" fill="#6b2c91"/>
<path d="M153.20 279.20L154.32 282.46L157.77 282.52L155.01 284.59L156.02 287.88L153.20 285.90L150.38 287.88L151.39 284.59L148.63 282.52L152.08 282.46Z" fill="#6b2c91"/>
<path d="M189.00 267.00L190.12 270.26L193.57 270.32L190.81 272.39L191.82 275.68L189.00 273.70L186.18 275.68L187.19 272.39L184.43 270.32L187.88 270.26Z" fill="#6b2c91"/>
<path d="M196.00 264.80L197.12 268.06L200.57 268.12L197.81 270.19L198.82 273.48L196.00 271.50L193.18 273.48L194.19 270.19L191.43 268.12L194.88 268.06Z" fill="#6b2c91"/>
<path d="M156.40 284.00L157.52 287.26L160.97 287.32L158.21 289.39L159.22 292.68L156.40 290.70L153.58 292.68L154.59 289.39L151.83 287.32L155.28 287.26Z" fill="#6b2c91"/>
<path d="M215.00 268.20L216.12 271.46L219.57 271.52L216.81 273.59L217.82 276.88L215.00 274.90L212.18 276.88L213.19 273.59L210.43 271.52L213.88 271.46Z" fill="#6b2c91"/>
<path d="M178.00 275.20L179.12 278.46L182.57 278.52L179.81 280.59L180.82 283.88L178.00 281.90L175.18 283.88L176.19 280.59L173.43 278.52L176.88 278.46Z" fill="#6b2c91"/>
<path d="M163.00 278.20L164.12 281.46L167.57 281.52L164.81 283.59L165.82 286.88L163.00 284.90L160.18 286.88L161.19 283.59L158.43 281.52L161.88 281.46Z" fill="#6b2c91"/>
<path d="M165.00 282.70L166.53 286.20L170.33 286.57L167.47 289.10L168.29 292.83L165.00 290.90L161.71 292.83L162.53 289.10L159.67 286.57L163.47 286.20Z" fill="#fff" stroke="#1d48a8" stroke-width="2.1" stroke-linejoin="miter"/>
<path d="M173.00 280.60L174.53 284.10L178.33 284.47L175.47 287.00L176.29 290.73L173.00 288.80L169.71 290.73L170.53 287.00L167.67 284.47L171.47 284.10Z" fill="#fff" stroke="#1d48a8" stroke-width="2.1" stroke-linejoin="miter"/>
<path d="M173.50 275.80L175.03 279.30L178.83 279.67L175.97 282.20L176.79 285.93L173.50 284.00L170.21 285.93L171.03 282.20L168.17 279.67L171.97 279.30Z" fill="#fff" stroke="#1d48a8" stroke-width="2.1" stroke-linejoin="miter"/>
<path d="M192.70 268.80L194.23 272.30L198.03 272.67L195.17 275.20L195.99 278.93L192.70 277.00L189.41 278.93L190.23 275.20L187.37 272.67L191.17 272.30Z" fill="#fff" stroke="#1d48a8" stroke-width="2.1" stroke-linejoin="miter"/>
<path d="M71.20 212.80L72.14 215.51L75.00 215.56L72.72 217.29L73.55 220.04L71.20 218.40L68.85 220.04L69.68 217.29L67.40 215.56L70.26 215.51Z" fill="#6b2c91"/>
<circle cx="71.2" cy="224.7" r="3.1" fill="#000"/>
<path d="M71.30 227.70L72.65 231.14L76.34 231.36L73.49 233.71L74.42 237.29L71.30 235.30L68.18 237.29L69.11 233.71L66.26 231.36L69.95 231.14Z" fill="#1d48a8"/>
<circle cx="71.3" cy="241.1" r="2.95" fill="#fff" stroke="#1c45b0" stroke-width="1.75"/>
<text x="80.6" y="219.3" class="lg" textLength="46.0" lengthAdjust="spacingAndGlyphs">Chuncheon sieve</text>
<text x="80.6" y="227.2" class="lg" textLength="34.1" lengthAdjust="spacingAndGlyphs">Unseparated</text>
<text x="80.6" y="235.3" class="lg" textLength="24.5" lengthAdjust="spacingAndGlyphs">Blind test</text>
<text x="80.6" y="243.5" class="lg" textLength="24.5" lengthAdjust="spacingAndGlyphs">Blind test</text>
<ellipse cx="325.3" cy="278.3" rx="65.95" ry="20" transform="rotate(-37.2 325.3 278.3)" fill="#c0c0c0" stroke="#646464" stroke-width="1.0"/>
<ellipse cx="391.8" cy="268.75" rx="48.5" ry="14.8" transform="rotate(-29.65 391.8 268.75)" fill="none" stroke="#747474" stroke-width="1.0"/>
<circle cx="326.7" cy="267.3" r="3.1" fill="#000"/>
<circle cx="331.9" cy="267.3" r="3.1" fill="#000"/>
<circle cx="337.1" cy="267.3" r="3.1" fill="#000"/>
<circle cx="342.3" cy="267.3" r="3.1" fill="#000"/>
<circle cx="347.5" cy="267.3" r="3.1" fill="#000"/>
<circle cx="318.9" cy="271.8" r="3.1" fill="#000"/>
<circle cx="324.1" cy="271.8" r="3.1" fill="#000"/>
<circle cx="329.3" cy="271.8" r="3.1" fill="#000"/>
<circle cx="334.5" cy="271.8" r="3.1" fill="#000"/>
<circle cx="339.7" cy="271.8" r="3.1" fill="#000"/>
<circle cx="344.9" cy="271.8" r="3.1" fill="#000"/>
<circle cx="350.1" cy="271.8" r="3.1" fill="#000"/>
<circle cx="311.1" cy="276.3" r="3.1" fill="#000"/>
<circle cx="316.3" cy="276.3" r="3.1" fill="#000"/>
<circle cx="321.5" cy="276.3" r="3.1" fill="#000"/>
<circle cx="326.7" cy="276.3" r="3.1" fill="#000"/>
<circle cx="331.9" cy="276.3" r="3.1" fill="#000"/>
<circle cx="337.1" cy="276.3" r="3.1" fill="#000"/>
<circle cx="342.3" cy="276.3" r="3.1" fill="#000"/>
<circle cx="347.5" cy="276.3" r="3.1" fill="#000"/>
<circle cx="303.3" cy="280.8" r="3.1" fill="#000"/>
<circle cx="308.5" cy="280.8" r="3.1" fill="#000"/>
<circle cx="313.7" cy="280.8" r="3.1" fill="#000"/>
<circle cx="318.9" cy="280.8" r="3.1" fill="#000"/>
<circle cx="324.1" cy="280.8" r="3.1" fill="#000"/>
<circle cx="329.3" cy="280.8" r="3.1" fill="#000"/>
<circle cx="334.5" cy="280.8" r="3.1" fill="#000"/>
<circle cx="339.7" cy="280.8" r="3.1" fill="#000"/>
<circle cx="344.9" cy="280.8" r="3.1" fill="#000"/>
<circle cx="295.5" cy="285.3" r="3.1" fill="#000"/>
<circle cx="300.7" cy="285.3" r="3.1" fill="#000"/>
<circle cx="305.9" cy="285.3" r="3.1" fill="#000"/>
<circle cx="311.1" cy="285.3" r="3.1" fill="#000"/>
<circle cx="316.3" cy="285.3" r="3.1" fill="#000"/>
<circle cx="321.5" cy="285.3" r="3.1" fill="#000"/>
<circle cx="326.7" cy="285.3" r="3.1" fill="#000"/>
<circle cx="331.9" cy="285.3" r="3.1" fill="#000"/>
<circle cx="337.1" cy="285.3" r="3.1" fill="#000"/>
<circle cx="298.1" cy="289.8" r="3.1" fill="#000"/>
<circle cx="303.3" cy="289.8" r="3.1" fill="#000"/>
<circle cx="308.5" cy="289.8" r="3.1" fill="#000"/>
<circle cx="313.7" cy="289.8" r="3.1" fill="#000"/>
<circle cx="318.9" cy="289.8" r="3.1" fill="#000"/>
<circle cx="324.1" cy="289.8" r="3.1" fill="#000"/>
<circle cx="329.3" cy="289.8" r="3.1" fill="#000"/>
<circle cx="295.5" cy="294.3" r="3.1" fill="#000"/>
<circle cx="300.7" cy="294.3" r="3.1" fill="#000"/>
<circle cx="305.9" cy="294.3" r="3.1" fill="#000"/>
<circle cx="311.1" cy="294.3" r="3.1" fill="#000"/>
<circle cx="316.3" cy="294.3" r="3.1" fill="#000"/>
<circle cx="298.1" cy="298.8" r="3.1" fill="#000"/>
<circle cx="303.3" cy="298.8" r="3.1" fill="#000"/>
<circle cx="316.0" cy="263.3" r="3.1" fill="#000"/>
<circle cx="321.1" cy="265.9" r="3.1" fill="#000"/>
<circle cx="328.8" cy="256.9" r="3.1" fill="#000"/>
<circle cx="335.2" cy="258.2" r="3.1" fill="#000"/>
<circle cx="342.9" cy="254.4" r="3.1" fill="#000"/>
<circle cx="345.5" cy="247.9" r="3.1" fill="#000"/>
<circle cx="357.0" cy="251.8" r="3.1" fill="#000"/>
<circle cx="373.7" cy="242.8" r="3.1" fill="#000"/>
<circle cx="375.0" cy="247.9" r="3.1" fill="#000"/>
<circle cx="380.1" cy="258.2" r="3.1" fill="#000"/>
<circle cx="307.0" cy="276.2" r="3.1" fill="#000"/>
<circle cx="298.1" cy="282.6" r="3.1" fill="#000"/>
<circle cx="299.3" cy="299.2" r="3.1" fill="#000"/>
<circle cx="296.8" cy="304.4" r="3.1" fill="#000"/>
<circle cx="285.2" cy="303.1" r="3.1" fill="#000"/>
<circle cx="303.2" cy="312.1" r="3.1" fill="#000"/>
<circle cx="276.3" cy="319.7" r="3.1" fill="#000"/>
<circle cx="281.4" cy="319.7" r="3.1" fill="#000"/>
<circle cx="355.7" cy="278.7" r="3.1" fill="#000"/>
<circle cx="325.0" cy="290.3" r="3.1" fill="#000"/>
<circle cx="337.8" cy="287.7" r="3.1" fill="#000"/>
<circle cx="327.5" cy="276.2" r="3.1" fill="#000"/>
<circle cx="342.9" cy="268.5" r="3.1" fill="#000"/>
<circle cx="330.1" cy="265.6" r="2.95" fill="#fff" stroke="#1c45b0" stroke-width="1.75"/>
<circle cx="331" cy="269.1" r="2.95" fill="#fff" stroke="#1c45b0" stroke-width="1.75"/>
<circle cx="335.7" cy="273.3" r="2.95" fill="#fff" stroke="#1c45b0" stroke-width="1.75"/>
<circle cx="342.6" cy="275.9" r="2.95" fill="#fff" stroke="#1c45b0" stroke-width="1.75"/>
<circle cx="319" cy="278.5" r="2.95" fill="#fff" stroke="#1c45b0" stroke-width="1.75"/>
<circle cx="326.7" cy="287.9" r="2.95" fill="#fff" stroke="#1c45b0" stroke-width="1.75"/>
<circle cx="328.4" cy="287" r="2.95" fill="#fff" stroke="#1c45b0" stroke-width="1.75"/>
<circle cx="331" cy="290.4" r="2.95" fill="#fff" stroke="#1c45b0" stroke-width="1.75"/>
<circle cx="339.2" cy="286.2" r="2.95" fill="#fff" stroke="#1c45b0" stroke-width="1.75"/>
<circle cx="351.6" cy="266.2" r="2.95" fill="#fff" stroke="#1c45b0" stroke-width="1.75"/>
<circle cx="357.3" cy="266.2" r="2.95" fill="#fff" stroke="#1c45b0" stroke-width="1.75"/>
<path d="M413.10 252.60L410.68 253.80L410.85 256.50L408.60 255.00L406.35 256.50L406.52 253.80L404.10 252.60L406.52 251.40L406.35 248.70L408.60 250.20L410.85 248.70L410.68 251.40Z" fill="#cdb83c"/>
<path d="M419.90 252.60L417.48 253.80L417.65 256.50L415.40 255.00L413.15 256.50L413.32 253.80L410.90 252.60L413.32 251.40L413.15 248.70L415.40 250.20L417.65 248.70L417.48 251.40Z" fill="#cdb83c"/>
<path d="M402.90 258.50L400.48 259.70L400.65 262.40L398.40 260.90L396.15 262.40L396.32 259.70L393.90 258.50L396.32 257.30L396.15 254.60L398.40 256.10L400.65 254.60L400.48 257.30Z" fill="#cdb83c"/>
<path d="M409.70 258.50L407.28 259.70L407.45 262.40L405.20 260.90L402.95 262.40L403.12 259.70L400.70 258.50L403.12 257.30L402.95 254.60L405.20 256.10L407.45 254.60L407.28 257.30Z" fill="#cdb83c"/>
<path d="M416.50 258.50L414.08 259.70L414.25 262.40L412.00 260.90L409.75 262.40L409.92 259.70L407.50 258.50L409.92 257.30L409.75 254.60L412.00 256.10L414.25 254.60L414.08 257.30Z" fill="#cdb83c"/>
<path d="M423.30 258.50L420.88 259.70L421.05 262.40L418.80 260.90L416.55 262.40L416.72 259.70L414.30 258.50L416.72 257.30L416.55 254.60L418.80 256.10L421.05 254.60L420.88 257.30Z" fill="#cdb83c"/>
<path d="M392.70 264.40L390.28 265.60L390.45 268.30L388.20 266.80L385.95 268.30L386.12 265.60L383.70 264.40L386.12 263.20L385.95 260.50L388.20 262.00L390.45 260.50L390.28 263.20Z" fill="#cdb83c"/>
<path d="M399.50 264.40L397.08 265.60L397.25 268.30L395.00 266.80L392.75 268.30L392.92 265.60L390.50 264.40L392.92 263.20L392.75 260.50L395.00 262.00L397.25 260.50L397.08 263.20Z" fill="#cdb83c"/>
<path d="M406.30 264.40L403.88 265.60L404.05 268.30L401.80 266.80L399.55 268.30L399.72 265.60L397.30 264.40L399.72 263.20L399.55 260.50L401.80 262.00L404.05 260.50L403.88 263.20Z" fill="#cdb83c"/>
<path d="M413.10 264.40L410.68 265.60L410.85 268.30L408.60 266.80L406.35 268.30L406.52 265.60L404.10 264.40L406.52 263.20L406.35 260.50L408.60 262.00L410.85 260.50L410.68 263.20Z" fill="#cdb83c"/>
<path d="M419.90 264.40L417.48 265.60L417.65 268.30L415.40 266.80L413.15 268.30L413.32 265.60L410.90 264.40L413.32 263.20L413.15 260.50L415.40 262.00L417.65 260.50L417.48 263.20Z" fill="#cdb83c"/>
<path d="M382.50 270.30L380.08 271.50L380.25 274.20L378.00 272.70L375.75 274.20L375.92 271.50L373.50 270.30L375.92 269.10L375.75 266.40L378.00 267.90L380.25 266.40L380.08 269.10Z" fill="#cdb83c"/>
<path d="M389.30 270.30L386.88 271.50L387.05 274.20L384.80 272.70L382.55 274.20L382.72 271.50L380.30 270.30L382.72 269.10L382.55 266.40L384.80 267.90L387.05 266.40L386.88 269.10Z" fill="#cdb83c"/>
<path d="M396.10 270.30L393.68 271.50L393.85 274.20L391.60 272.70L389.35 274.20L389.52 271.50L387.10 270.30L389.52 269.10L389.35 266.40L391.60 267.90L393.85 266.40L393.68 269.10Z" fill="#cdb83c"/>
<path d="M402.90 270.30L400.48 271.50L400.65 274.20L398.40 272.70L396.15 274.20L396.32 271.50L393.90 270.30L396.32 269.10L396.15 266.40L398.40 267.90L400.65 266.40L400.48 269.10Z" fill="#cdb83c"/>
<path d="M409.70 270.30L407.28 271.50L407.45 274.20L405.20 272.70L402.95 274.20L403.12 271.50L400.70 270.30L403.12 269.10L402.95 266.40L405.20 267.90L407.45 266.40L407.28 269.10Z" fill="#cdb83c"/>
<path d="M372.30 276.10L369.88 277.30L370.05 280.00L367.80 278.50L365.55 280.00L365.72 277.30L363.30 276.10L365.72 274.90L365.55 272.20L367.80 273.70L370.05 272.20L369.88 274.90Z" fill="#cdb83c"/>
<path d="M379.10 276.10L376.68 277.30L376.85 280.00L374.60 278.50L372.35 280.00L372.52 277.30L370.10 276.10L372.52 274.90L372.35 272.20L374.60 273.70L376.85 272.20L376.68 274.90Z" fill="#cdb83c"/>
<path d="M385.90 276.10L383.48 277.30L383.65 280.00L381.40 278.50L379.15 280.00L379.32 277.30L376.90 276.10L379.32 274.90L379.15 272.20L381.40 273.70L383.65 272.20L383.48 274.90Z" fill="#cdb83c"/>
<path d="M392.70 276.10L390.28 277.30L390.45 280.00L388.20 278.50L385.95 280.00L386.12 277.30L383.70 276.10L386.12 274.90L385.95 272.20L388.20 273.70L390.45 272.20L390.28 274.90Z" fill="#cdb83c"/>
<path d="M399.50 276.10L397.08 277.30L397.25 280.00L395.00 278.50L392.75 280.00L392.92 277.30L390.50 276.10L392.92 274.90L392.75 272.20L395.00 273.70L397.25 272.20L397.08 274.90Z" fill="#cdb83c"/>
<path d="M362.10 282.00L359.68 283.20L359.85 285.90L357.60 284.40L355.35 285.90L355.52 283.20L353.10 282.00L355.52 280.80L355.35 278.10L357.60 279.60L359.85 278.10L359.68 280.80Z" fill="#cdb83c"/>
<path d="M368.90 282.00L366.48 283.20L366.65 285.90L364.40 284.40L362.15 285.90L362.32 283.20L359.90 282.00L362.32 280.80L362.15 278.10L364.40 279.60L366.65 278.10L366.48 280.80Z" fill="#cdb83c"/>
<path d="M375.70 282.00L373.28 283.20L373.45 285.90L371.20 284.40L368.95 285.90L369.12 283.20L366.70 282.00L369.12 280.80L368.95 278.10L371.20 279.60L373.45 278.10L373.28 280.80Z" fill="#cdb83c"/>
<path d="M382.50 282.00L380.08 283.20L380.25 285.90L378.00 284.40L375.75 285.90L375.92 283.20L373.50 282.00L375.92 280.80L375.75 278.10L378.00 279.60L380.25 278.10L380.08 280.80Z" fill="#cdb83c"/>
<path d="M389.30 282.00L386.88 283.20L387.05 285.90L384.80 284.40L382.55 285.90L382.72 283.20L380.30 282.00L382.72 280.80L382.55 278.10L384.80 279.60L387.05 278.10L386.88 280.80Z" fill="#cdb83c"/>
<path d="M358.70 287.90L356.28 289.10L356.45 291.80L354.20 290.30L351.95 291.80L352.12 289.10L349.70 287.90L352.12 286.70L351.95 284.00L354.20 285.50L356.45 284.00L356.28 286.70Z" fill="#cdb83c"/>
<path d="M365.50 287.90L363.08 289.10L363.25 291.80L361.00 290.30L358.75 291.80L358.92 289.10L356.50 287.90L358.92 286.70L358.75 284.00L361.00 285.50L363.25 284.00L363.08 286.70Z" fill="#cdb83c"/>
<path d="M372.30 287.90L369.88 289.10L370.05 291.80L367.80 290.30L365.55 291.80L365.72 289.10L363.30 287.90L365.72 286.70L365.55 284.00L367.80 285.50L370.05 284.00L369.88 286.70Z" fill="#cdb83c"/>
<path d="M379.10 287.90L376.68 289.10L376.85 291.80L374.60 290.30L372.35 291.80L372.52 289.10L370.10 287.90L372.52 286.70L372.35 284.00L374.60 285.50L376.85 284.00L376.68 286.70Z" fill="#cdb83c"/>
<path d="M362.10 293.80L359.68 295.00L359.85 297.70L357.60 296.20L355.35 297.70L355.52 295.00L353.10 293.80L355.52 292.60L355.35 289.90L357.60 291.40L359.85 289.90L359.68 292.60Z" fill="#cdb83c"/>
<path d="M432.40 243.80L429.87 245.05L430.05 247.87L427.70 246.30L425.35 247.87L425.53 245.05L423.00 243.80L425.53 242.55L425.35 239.73L427.70 241.30L430.05 239.73L429.87 242.55Z" fill="#cdb83c"/>
<path d="M424.70 265.00L422.17 266.25L422.35 269.07L420.00 267.50L417.65 269.07L417.83 266.25L415.30 265.00L417.83 263.75L417.65 260.93L420.00 262.50L422.35 260.93L422.17 263.75Z" fill="#cdb83c"/>
<path d="M418.90 259.20L416.37 260.45L416.55 263.27L414.20 261.70L411.85 263.27L412.03 260.45L409.50 259.20L412.03 257.95L411.85 255.13L414.20 256.70L416.55 255.13L416.37 257.95Z" fill="#cdb83c"/>
<path d="M411.20 254.40L408.67 255.65L408.85 258.47L406.50 256.90L404.15 258.47L404.33 255.65L401.80 254.40L404.33 253.15L404.15 250.33L406.50 251.90L408.85 250.33L408.67 253.15Z" fill="#cdb83c"/>
<path d="M407.40 258.30L404.87 259.55L405.05 262.37L402.70 260.80L400.35 262.37L400.53 259.55L398.00 258.30L400.53 257.05L400.35 254.23L402.70 255.80L405.05 254.23L404.87 257.05Z" fill="#cdb83c"/>
<path d="M397.80 259.20L395.27 260.45L395.45 263.27L393.10 261.70L390.75 263.27L390.93 260.45L388.40 259.20L390.93 257.95L390.75 255.13L393.10 256.70L395.45 255.13L395.27 257.95Z" fill="#cdb83c"/>
<path d="M401.60 265.00L399.07 266.25L399.25 269.07L396.90 267.50L394.55 269.07L394.73 266.25L392.20 265.00L394.73 263.75L394.55 260.93L396.90 262.50L399.25 260.93L399.07 263.75Z" fill="#cdb83c"/>
<path d="M409.30 266.90L406.77 268.15L406.95 270.97L404.60 269.40L402.25 270.97L402.43 268.15L399.90 266.90L402.43 265.65L402.25 262.83L404.60 264.40L406.95 262.83L406.77 265.65Z" fill="#cdb83c"/>
<path d="M415.10 268.80L412.57 270.05L412.75 272.87L410.40 271.30L408.05 272.87L408.23 270.05L405.70 268.80L408.23 267.55L408.05 264.73L410.40 266.30L412.75 264.73L412.57 267.55Z" fill="#cdb83c"/>
<path d="M403.50 272.70L400.97 273.95L401.15 276.77L398.80 275.20L396.45 276.77L396.63 273.95L394.10 272.70L396.63 271.45L396.45 268.63L398.80 270.20L401.15 268.63L400.97 271.45Z" fill="#cdb83c"/>
<path d="M395.90 268.80L393.37 270.05L393.55 272.87L391.20 271.30L388.85 272.87L389.03 270.05L386.50 268.80L389.03 267.55L388.85 264.73L391.20 266.30L393.55 264.73L393.37 267.55Z" fill="#cdb83c"/>
<path d="M388.20 265.00L385.67 266.25L385.85 269.07L383.50 267.50L381.15 269.07L381.33 266.25L378.80 265.00L381.33 263.75L381.15 260.93L383.50 262.50L385.85 260.93L385.67 263.75Z" fill="#cdb83c"/>
<path d="M384.30 270.80L381.77 272.05L381.95 274.87L379.60 273.30L377.25 274.87L377.43 272.05L374.90 270.80L377.43 269.55L377.25 266.73L379.60 268.30L381.95 266.73L381.77 269.55Z" fill="#cdb83c"/>
<path d="M380.50 274.60L377.97 275.85L378.15 278.67L375.80 277.10L373.45 278.67L373.63 275.85L371.10 274.60L373.63 273.35L373.45 270.53L375.80 272.10L378.15 270.53L377.97 273.35Z" fill="#cdb83c"/>
<path d="M388.20 276.50L385.67 277.75L385.85 280.57L383.50 279.00L381.15 280.57L381.33 277.75L378.80 276.50L381.33 275.25L381.15 272.43L383.50 274.00L385.85 272.43L385.67 275.25Z" fill="#cdb83c"/>
<path d="M395.90 278.50L393.37 279.75L393.55 282.57L391.20 281.00L388.85 282.57L389.03 279.75L386.50 278.50L389.03 277.25L388.85 274.43L391.20 276.00L393.55 274.43L393.37 277.25Z" fill="#cdb83c"/>
<path d="M401.60 276.50L399.07 277.75L399.25 280.57L396.90 279.00L394.55 280.57L394.73 277.75L392.20 276.50L394.73 275.25L394.55 272.43L396.90 274.00L399.25 272.43L399.07 275.25Z" fill="#cdb83c"/>
<path d="M392.00 284.20L389.47 285.45L389.65 288.27L387.30 286.70L384.95 288.27L385.13 285.45L382.60 284.20L385.13 282.95L384.95 280.13L387.30 281.70L389.65 280.13L389.47 282.95Z" fill="#cdb83c"/>
<path d="M382.40 282.30L379.87 283.55L380.05 286.37L377.70 284.80L375.35 286.37L375.53 283.55L373.00 282.30L375.53 281.05L375.35 278.23L377.70 279.80L380.05 278.23L379.87 281.05Z" fill="#cdb83c"/>
<path d="M376.60 286.20L374.07 287.45L374.25 290.27L371.90 288.70L369.55 290.27L369.73 287.45L367.20 286.20L369.73 284.95L369.55 282.13L371.90 283.70L374.25 282.13L374.07 284.95Z" fill="#cdb83c"/>
<path d="M368.90 278.50L366.37 279.75L366.55 282.57L364.20 281.00L361.85 282.57L362.03 279.75L359.50 278.50L362.03 277.25L361.85 274.43L364.20 276.00L366.55 274.43L366.37 277.25Z" fill="#cdb83c"/>
<path d="M365.10 284.20L362.57 285.45L362.75 288.27L360.40 286.70L358.05 288.27L358.23 285.45L355.70 284.20L358.23 282.95L358.05 280.13L360.40 281.70L362.75 280.13L362.57 282.95Z" fill="#cdb83c"/>
<path d="M361.20 288.10L358.67 289.35L358.85 292.17L356.50 290.60L354.15 292.17L354.33 289.35L351.80 288.10L354.33 286.85L354.15 284.03L356.50 285.60L358.85 284.03L358.67 286.85Z" fill="#cdb83c"/>
<path d="M357.40 291.00L354.87 292.25L355.05 295.07L352.70 293.50L350.35 295.07L350.53 292.25L348.00 291.00L350.53 289.75L350.35 286.93L352.70 288.50L355.05 286.93L354.87 289.75Z" fill="#cdb83c"/>
<path d="M359.30 293.80L356.77 295.05L356.95 297.87L354.60 296.30L352.25 297.87L352.43 295.05L349.90 293.80L352.43 292.55L352.25 289.73L354.60 291.30L356.95 289.73L356.77 292.55Z" fill="#cdb83c"/>
<path d="M405.50 278.50L402.97 279.75L403.15 282.57L400.80 281.00L398.45 282.57L398.63 279.75L396.10 278.50L398.63 277.25L398.45 274.43L400.80 276.00L403.15 274.43L402.97 277.25Z" fill="#cdb83c"/>
<path d="M417.00 263.10L414.47 264.35L414.65 267.17L412.30 265.60L409.95 267.17L410.13 264.35L407.60 263.10L410.13 261.85L409.95 259.03L412.30 260.60L414.65 259.03L414.47 261.85Z" fill="#cdb83c"/>
<path d="M420.90 266.90L418.37 268.15L418.55 270.97L416.20 269.40L413.85 270.97L414.03 268.15L411.50 266.90L414.03 265.65L413.85 262.83L416.20 264.40L418.55 262.83L418.37 265.65Z" fill="#cdb83c"/>
<path d="M413.20 261.20L410.67 262.45L410.85 265.27L408.50 263.70L406.15 265.27L406.33 262.45L403.80 261.20L406.33 259.95L406.15 257.13L408.50 258.70L410.85 257.13L410.67 259.95Z" fill="#cdb83c"/>
<path d="M388.20 282.30L385.67 283.55L385.85 286.37L383.50 284.80L381.15 286.37L381.33 283.55L378.80 282.30L381.33 281.05L381.15 278.23L383.50 279.80L385.85 278.23L385.67 281.05Z" fill="#cdb83c"/>
<path d="M406.70 253.50L404.17 254.75L404.35 257.57L402.00 256.00L399.65 257.57L399.83 254.75L397.30 253.50L399.83 252.25L399.65 249.43L402.00 251.00L404.35 249.43L404.17 252.25Z" fill="#cdb83c"/>
<path d="M423.80 264.20L421.27 265.45L421.45 268.27L419.10 266.70L416.75 268.27L416.93 265.45L414.40 264.20L416.93 262.95L416.75 260.13L419.10 261.70L421.45 260.13L421.27 262.95Z" fill="#cdb83c"/>
<path d="M405.60 265.30L403.07 266.55L403.25 269.37L400.90 267.80L398.55 269.37L398.73 266.55L396.20 265.30L398.73 264.05L398.55 261.23L400.90 262.80L403.25 261.23L403.07 264.05Z" fill="#cdb83c"/>
<path d="M383.20 271.70L380.67 272.95L380.85 275.77L378.50 274.20L376.15 275.77L376.33 272.95L373.80 271.70L376.33 270.45L376.15 267.63L378.50 269.20L380.85 267.63L380.67 270.45Z" fill="#cdb83c"/>
<path d="M389.60 278.10L387.07 279.35L387.25 282.17L384.90 280.60L382.55 282.17L382.73 279.35L380.20 278.10L382.73 276.85L382.55 274.03L384.90 275.60L387.25 274.03L387.07 276.85Z" fill="#cdb83c"/>
<path d="M397.10 274.90L394.57 276.15L394.75 278.97L392.40 277.40L390.05 278.97L390.23 276.15L387.70 274.90L390.23 273.65L390.05 270.83L392.40 272.40L394.75 270.83L394.57 273.65Z" fill="#cdb83c"/>
<path d="M365.00 279.10L362.47 280.35L362.65 283.17L360.30 281.60L357.95 283.17L358.13 280.35L355.60 279.10L358.13 277.85L357.95 275.03L360.30 276.60L362.65 275.03L362.47 277.85Z" fill="#cdb83c"/>
<path d="M399.20 256.70L396.67 257.95L396.85 260.77L394.50 259.20L392.15 260.77L392.33 257.95L389.80 256.70L392.33 255.45L392.15 252.63L394.50 254.20L396.85 252.63L396.67 255.45Z" fill="#cdb83c"/>
<path d="M409.90 272.70L407.37 273.95L407.55 276.77L405.20 275.20L402.85 276.77L403.03 273.95L400.50 272.70L403.03 271.45L402.85 268.63L405.20 270.20L407.55 268.63L407.37 271.45Z" fill="#cdb83c"/>
<path d="M419.50 256.70L416.97 257.95L417.15 260.77L414.80 259.20L412.45 260.77L412.63 257.95L410.10 256.70L412.63 255.45L412.45 252.63L414.80 254.20L417.15 252.63L416.97 255.45Z" fill="#cdb83c"/>
<path d="M390.70 270.00L388.17 271.25L388.35 274.07L386.00 272.50L383.65 274.07L383.83 271.25L381.30 270.00L383.83 268.75L383.65 265.93L386.00 267.50L388.35 265.93L388.17 268.75Z" fill="#cdb83c"/>
<path d="M372.70 282.00L370.17 283.25L370.35 286.07L368.00 284.50L365.65 286.07L365.83 283.25L363.30 282.00L365.83 280.75L365.65 277.93L368.00 279.50L370.35 277.93L370.17 280.75Z" fill="#cdb83c"/>
<path d="M377.70 278.00L375.17 279.25L375.35 282.07L373.00 280.50L370.65 282.07L370.83 279.25L368.30 278.00L370.83 276.75L370.65 273.93L373.00 275.50L375.35 273.93L375.17 276.75Z" fill="#cdb83c"/>
<path d="M418.60 249.20L415.90 250.70L415.95 253.79L413.30 252.20L410.65 253.79L410.70 250.70L408.00 249.20L410.70 247.70L410.65 244.61L413.30 246.20L415.95 244.61L415.90 247.70Z" fill="#fff" stroke="#1d48a8" stroke-width="2.0" stroke-linejoin="miter"/>
<path d="M393.00 268.80L390.30 270.30L390.35 273.39L387.70 271.80L385.05 273.39L385.10 270.30L382.40 268.80L385.10 267.30L385.05 264.21L387.70 265.80L390.35 264.21L390.30 267.30Z" fill="#fff" stroke="#1d48a8" stroke-width="2.0" stroke-linejoin="miter"/>
<path d="M375.30 279.40L372.60 280.90L372.65 283.99L370.00 282.40L367.35 283.99L367.40 280.90L364.70 279.40L367.40 277.90L367.35 274.81L370.00 276.40L372.65 274.81L372.60 277.90Z" fill="#fff" stroke="#1d48a8" stroke-width="2.0" stroke-linejoin="miter"/>
<path d="M369.10 283.80L366.40 285.30L366.45 288.39L363.80 286.80L361.15 288.39L361.20 285.30L358.50 283.80L361.20 282.30L361.15 279.21L363.80 280.80L366.45 279.21L366.40 282.30Z" fill="#fff" stroke="#1d48a8" stroke-width="2.0" stroke-linejoin="miter"/>
<path d="M280.90 217.50L278.72 218.55L278.90 220.96L276.90 219.60L274.90 220.96L275.08 218.55L272.90 217.50L275.08 216.45L274.90 214.04L276.90 215.40L278.90 214.04L278.72 216.45Z" fill="#cdb83c"/>
<circle cx="277" cy="224.7" r="3.1" fill="#000"/>
<path d="M281.60 232.40L279.45 233.70L279.40 236.21L277.20 235.00L275.00 236.21L274.95 233.70L272.80 232.40L274.95 231.10L275.00 228.59L277.20 229.80L279.40 228.59L279.45 231.10Z" fill="#fff" stroke="#1d48a8" stroke-width="1.8" stroke-linejoin="miter"/>
<circle cx="277" cy="240.1" r="2.95" fill="#fff" stroke="#1c45b0" stroke-width="1.75"/>
<text x="285.3" y="219.4" class="lg" textLength="52.1" lengthAdjust="spacingAndGlyphs">Xinjiang-West sieve</text>
<text x="285.3" y="227.2" class="lg" textLength="34.1" lengthAdjust="spacingAndGlyphs">Unseparated</text>
<text x="285.3" y="235.1" class="lg" textLength="24.5" lengthAdjust="spacingAndGlyphs">Blind test</text>
<text x="285.3" y="242.6" class="lg" textLength="24.5" lengthAdjust="spacingAndGlyphs">Blind test</text>
<ellipse cx="117" cy="439.4" rx="63.1" ry="17.1" transform="rotate(-28 117 439.4)" fill="#c0c0c0" stroke="#646464" stroke-width="1.0"/>
<ellipse cx="154.15" cy="459.4" rx="35.2" ry="12.9" transform="rotate(-6.15 154.15 459.4)" fill="none" stroke="#747474" stroke-width="1.0"/>
<circle cx="112.2" cy="434.4" r="3.1" fill="#000"/>
<circle cx="116.2" cy="434.4" r="3.1" fill="#000"/>
<circle cx="120.2" cy="434.4" r="3.1" fill="#000"/>
<circle cx="106.2" cy="437.8" r="3.1" fill="#000"/>
<circle cx="110.2" cy="437.8" r="3.1" fill="#000"/>
<circle cx="114.2" cy="437.8" r="3.1" fill="#000"/>
<circle cx="118.2" cy="437.8" r="3.1" fill="#000"/>
<circle cx="96.2" cy="441.3" r="3.1" fill="#000"/>
<circle cx="100.2" cy="441.3" r="3.1" fill="#000"/>
<circle cx="104.2" cy="441.3" r="3.1" fill="#000"/>
<circle cx="108.2" cy="441.3" r="3.1" fill="#000"/>
<circle cx="112.2" cy="441.3" r="3.1" fill="#000"/>
<circle cx="116.2" cy="441.3" r="3.1" fill="#000"/>
<circle cx="90.2" cy="444.8" r="3.1" fill="#000"/>
<circle cx="94.2" cy="444.8" r="3.1" fill="#000"/>
<circle cx="98.2" cy="444.8" r="3.1" fill="#000"/>
<circle cx="102.2" cy="444.8" r="3.1" fill="#000"/>
<circle cx="106.2" cy="444.8" r="3.1" fill="#000"/>
<circle cx="110.2" cy="444.8" r="3.1" fill="#000"/>
<circle cx="114.2" cy="444.8" r="3.1" fill="#000"/>
<circle cx="88.2" cy="448.2" r="3.1" fill="#000"/>
<circle cx="92.2" cy="448.2" r="3.1" fill="#000"/>
<circle cx="96.2" cy="448.2" r="3.1" fill="#000"/>
<circle cx="100.2" cy="448.2" r="3.1" fill="#000"/>
<circle cx="104.2" cy="448.2" r="3.1" fill="#000"/>
<circle cx="108.2" cy="448.2" r="3.1" fill="#000"/>
<circle cx="112.2" cy="448.2" r="3.1" fill="#000"/>
<circle cx="86.2" cy="451.7" r="3.1" fill="#000"/>
<circle cx="90.2" cy="451.7" r="3.1" fill="#000"/>
<circle cx="94.2" cy="451.7" r="3.1" fill="#000"/>
<circle cx="98.2" cy="451.7" r="3.1" fill="#000"/>
<circle cx="102.2" cy="451.7" r="3.1" fill="#000"/>
<circle cx="106.2" cy="451.7" r="3.1" fill="#000"/>
<circle cx="110.2" cy="451.7" r="3.1" fill="#000"/>
<circle cx="84.2" cy="455.1" r="3.1" fill="#000"/>
<circle cx="88.2" cy="455.1" r="3.1" fill="#000"/>
<circle cx="92.2" cy="455.1" r="3.1" fill="#000"/>
<circle cx="96.2" cy="455.1" r="3.1" fill="#000"/>
<circle cx="100.2" cy="455.1" r="3.1" fill="#000"/>
<circle cx="104.2" cy="455.1" r="3.1" fill="#000"/>
<circle cx="108.2" cy="455.1" r="3.1" fill="#000"/>
<circle cx="112.2" cy="455.1" r="3.1" fill="#000"/>
<circle cx="86.2" cy="458.6" r="3.1" fill="#000"/>
<circle cx="90.2" cy="458.6" r="3.1" fill="#000"/>
<circle cx="94.2" cy="458.6" r="3.1" fill="#000"/>
<circle cx="98.2" cy="458.6" r="3.1" fill="#000"/>
<circle cx="102.2" cy="458.6" r="3.1" fill="#000"/>
<circle cx="106.2" cy="458.6" r="3.1" fill="#000"/>
<circle cx="84.2" cy="462.1" r="3.1" fill="#000"/>
<circle cx="88.2" cy="462.1" r="3.1" fill="#000"/>
<circle cx="92.2" cy="462.1" r="3.1" fill="#000"/>
<circle cx="96.2" cy="462.1" r="3.1" fill="#000"/>
<circle cx="100.2" cy="462.1" r="3.1" fill="#000"/>
<circle cx="104.2" cy="462.1" r="3.1" fill="#000"/>
<circle cx="86.2" cy="465.5" r="3.1" fill="#000"/>
<circle cx="90.2" cy="465.5" r="3.1" fill="#000"/>
<circle cx="94.2" cy="465.5" r="3.1" fill="#000"/>
<circle cx="109.2" cy="421.4" r="3.1" fill="#000"/>
<circle cx="101" cy="434.2" r="3.1" fill="#000"/>
<circle cx="114.7" cy="431.6" r="3.1" fill="#000"/>
<circle cx="116.4" cy="435.9" r="3.1" fill="#000"/>
<circle cx="93.3" cy="440.2" r="3.1" fill="#000"/>
<circle cx="79.7" cy="445.3" r="3.1" fill="#000"/>
<circle cx="72.8" cy="462.4" r="3.1" fill="#000"/>
<circle cx="131.8" cy="445.3" r="3.1" fill="#000"/>
<circle cx="125.8" cy="447" r="3.1" fill="#000"/>
<circle cx="133.5" cy="428.2" r="3.1" fill="#000"/>
<circle cx="129.2" cy="435" r="3.1" fill="#000"/>
<circle cx="136.9" cy="441" r="3.1" fill="#000"/>
<circle cx="79.2" cy="445.1" r="3.1" fill="#000"/>
<circle cx="79.2" cy="452.2" r="3.1" fill="#000"/>
<circle cx="72.2" cy="462.4" r="3.1" fill="#000"/>
<circle cx="74.7" cy="467.6" r="3.1" fill="#000"/>
<circle cx="85" cy="472" r="3.1" fill="#000"/>
<circle cx="90.1" cy="469.5" r="3.1" fill="#000"/>
<circle cx="102.3" cy="466.3" r="3.1" fill="#000"/>
<circle cx="111.3" cy="456" r="3.1" fill="#000"/>
<circle cx="173.8" cy="415.7" r="3.1" fill="#000"/>
<circle cx="144.8" cy="426.5" r="3.1" fill="#000"/>
<circle cx="140.5" cy="424.8" r="3.1" fill="#000"/>
<circle cx="136.2" cy="428.2" r="3.1" fill="#000"/>
<circle cx="132" cy="430.8" r="3.1" fill="#000"/>
<circle cx="128.5" cy="434.2" r="3.1" fill="#000"/>
<circle cx="127.7" cy="436.8" r="3.1" fill="#000"/>
<circle cx="144.8" cy="435" r="3.1" fill="#000"/>
<circle cx="138" cy="441" r="3.1" fill="#000"/>
<circle cx="132.8" cy="446.2" r="3.1" fill="#000"/>
<circle cx="123.4" cy="447" r="3.1" fill="#000"/>
<circle cx="85" cy="465" r="3.1" fill="#000"/>
<circle cx="93" cy="467" r="3.1" fill="#000"/>
<circle cx="89" cy="441" r="3.1" fill="#000"/>
<rect x="127.00" y="453.80" width="6.6" height="6.6" fill="#1b9a47"/>
<rect x="132.10" y="452.10" width="6.6" height="6.6" fill="#1b9a47"/>
<rect x="135.50" y="450.40" width="6.6" height="6.6" fill="#1b9a47"/>
<rect x="144.10" y="453.80" width="6.6" height="6.6" fill="#1b9a47"/>
<rect x="148.30" y="452.10" width="6.6" height="6.6" fill="#1b9a47"/>
<rect x="153.50" y="445.20" width="6.6" height="6.6" fill="#1b9a47"/>
<rect x="157.70" y="448.70" width="6.6" height="6.6" fill="#1b9a47"/>
<rect x="162.00" y="447.00" width="6.6" height="6.6" fill="#1b9a47"/>
<rect x="165.40" y="450.40" width="6.6" height="6.6" fill="#1b9a47"/>
<rect x="173.10" y="453.80" width="6.6" height="6.6" fill="#1b9a47"/>
<rect x="179.10" y="456.40" width="6.6" height="6.6" fill="#1b9a47"/>
<rect x="139.80" y="458.90" width="6.6" height="6.6" fill="#1b9a47"/>
<rect x="150.90" y="458.90" width="6.6" height="6.6" fill="#1b9a47"/>
<rect x="157.70" y="460.60" width="6.6" height="6.6" fill="#1b9a47"/>
<rect x="166.30" y="460.60" width="6.6" height="6.6" fill="#1b9a47"/>
<rect x="132.10" y="460.60" width="6.6" height="6.6" fill="#1b9a47"/>
<rect x="174.00" y="458.90" width="6.6" height="6.6" fill="#1b9a47"/>
<rect x="125.10" y="454.80" width="6.6" height="6.6" fill="#1b9a47"/>
<rect x="133.60" y="453.10" width="6.6" height="6.6" fill="#1b9a47"/>
<rect x="146.70" y="456.70" width="6.6" height="6.6" fill="#1b9a47"/>
<rect x="154.70" y="454.70" width="6.6" height="6.6" fill="#1b9a47"/>
<rect x="161.70" y="454.70" width="6.6" height="6.6" fill="#1b9a47"/>
<rect x="168.70" y="455.70" width="6.6" height="6.6" fill="#1b9a47"/>
<rect x="140.70" y="453.70" width="6.6" height="6.6" fill="#1b9a47"/>
<circle cx="155.9" cy="452.8" r="3.1" fill="#000"/>
<rect x="126.60" y="462.00" width="5.6" height="5.6" fill="#fff" stroke="#1d48a8" stroke-width="1.8"/>
<rect x="135.70" y="460.30" width="5.6" height="5.6" fill="#fff" stroke="#1d48a8" stroke-width="1.8"/>
<rect x="171.00" y="457.40" width="5.6" height="5.6" fill="#fff" stroke="#1d48a8" stroke-width="1.8"/>
<circle cx="95.3" cy="445.4" r="2.95" fill="#fff" stroke="#1c45b0" stroke-width="1.75"/>
<circle cx="103.6" cy="444.1" r="2.95" fill="#fff" stroke="#1c45b0" stroke-width="1.75"/>
<circle cx="108.5" cy="450.5" r="2.95" fill="#fff" stroke="#1c45b0" stroke-width="1.75"/>
<circle cx="117.7" cy="448.3" r="2.95" fill="#fff" stroke="#1c45b0" stroke-width="1.75"/>
<circle cx="79.2" cy="457.3" r="2.95" fill="#fff" stroke="#1c45b0" stroke-width="1.75"/>
<circle cx="82.4" cy="460.5" r="2.95" fill="#fff" stroke="#1c45b0" stroke-width="1.75"/>
<circle cx="83.1" cy="467.6" r="2.95" fill="#fff" stroke="#1c45b0" stroke-width="1.75"/>
<rect x="67.10" y="371.40" width="7" height="7" fill="#1b9a47"/>
<circle cx="70.6" cy="383" r="3.1" fill="#000"/>
<rect x="67.80" y="388.10" width="5.6" height="5.6" fill="#fff" stroke="#1d48a8" stroke-width="1.8"/>
<circle cx="70.6" cy="399.1" r="2.95" fill="#fff" stroke="#1c45b0" stroke-width="1.75"/>
<text x="79.8" y="377.4" class="lg" textLength="31.7" lengthAdjust="spacingAndGlyphs">Baikal sieve</text>
<text x="79.8" y="385.5" class="lg" textLength="34.1" lengthAdjust="spacingAndGlyphs">Unseparated</text>
<text x="79.8" y="393.4" class="lg" textLength="24.5" lengthAdjust="spacingAndGlyphs">Blind test</text>
<text x="79.8" y="401.6" class="lg" textLength="24.5" lengthAdjust="spacingAndGlyphs">Blind test</text>
<ellipse cx="325.4" cy="431" rx="68" ry="16.3" transform="rotate(-31.7 325.4 431)" fill="none" stroke="#747474" stroke-width="1.0"/>
<ellipse cx="370.5" cy="452" rx="57.7" ry="20" transform="rotate(-12.65 370.5 452)" fill="none" stroke="#747474" stroke-width="1.0"/>
<path d="M304.20 423.90L305.80 424.83L307.40 425.75L307.40 427.60L307.40 429.45L305.80 430.38L304.20 431.30L302.60 430.38L301.00 429.45L301.00 427.60L301.00 425.75L302.60 424.83Z" fill="#f39022"/>
<path d="M310.40 423.90L312.00 424.83L313.60 425.75L313.60 427.60L313.60 429.45L312.00 430.38L310.40 431.30L308.80 430.38L307.20 429.45L307.20 427.60L307.20 425.75L308.80 424.83Z" fill="#f39022"/>
<path d="M316.60 423.90L318.20 424.83L319.80 425.75L319.80 427.60L319.80 429.45L318.20 430.38L316.60 431.30L315.00 430.38L313.40 429.45L313.40 427.60L313.40 425.75L315.00 424.83Z" fill="#f39022"/>
<path d="M322.80 423.90L324.40 424.83L326.00 425.75L326.00 427.60L326.00 429.45L324.40 430.38L322.80 431.30L321.20 430.38L319.60 429.45L319.60 427.60L319.60 425.75L321.20 424.83Z" fill="#f39022"/>
<path d="M301.10 429.20L302.70 430.12L304.30 431.05L304.30 432.90L304.30 434.75L302.70 435.67L301.10 436.60L299.50 435.67L297.90 434.75L297.90 432.90L297.90 431.05L299.50 430.12Z" fill="#f39022"/>
<path d="M307.30 429.20L308.90 430.12L310.50 431.05L310.50 432.90L310.50 434.75L308.90 435.67L307.30 436.60L305.70 435.67L304.10 434.75L304.10 432.90L304.10 431.05L305.70 430.12Z" fill="#f39022"/>
<path d="M313.50 429.20L315.10 430.12L316.70 431.05L316.70 432.90L316.70 434.75L315.10 435.67L313.50 436.60L311.90 435.67L310.30 434.75L310.30 432.90L310.30 431.05L311.90 430.12Z" fill="#f39022"/>
<path d="M319.70 429.20L321.30 430.12L322.90 431.05L322.90 432.90L322.90 434.75L321.30 435.67L319.70 436.60L318.10 435.67L316.50 434.75L316.50 432.90L316.50 431.05L318.10 430.12Z" fill="#f39022"/>
<path d="M291.80 434.60L293.40 435.53L295.00 436.45L295.00 438.30L295.00 440.15L293.40 441.07L291.80 442.00L290.20 441.07L288.60 440.15L288.60 438.30L288.60 436.45L290.20 435.53Z" fill="#f39022"/>
<path d="M298.00 434.60L299.60 435.53L301.20 436.45L301.20 438.30L301.20 440.15L299.60 441.07L298.00 442.00L296.40 441.07L294.80 440.15L294.80 438.30L294.80 436.45L296.40 435.53Z" fill="#f39022"/>
<path d="M304.20 434.60L305.80 435.53L307.40 436.45L307.40 438.30L307.40 440.15L305.80 441.07L304.20 442.00L302.60 441.07L301.00 440.15L301.00 438.30L301.00 436.45L302.60 435.53Z" fill="#f39022"/>
<path d="M310.40 434.60L312.00 435.53L313.60 436.45L313.60 438.30L313.60 440.15L312.00 441.07L310.40 442.00L308.80 441.07L307.20 440.15L307.20 438.30L307.20 436.45L308.80 435.53Z" fill="#f39022"/>
<path d="M316.60 434.60L318.20 435.53L319.80 436.45L319.80 438.30L319.80 440.15L318.20 441.07L316.60 442.00L315.00 441.07L313.40 440.15L313.40 438.30L313.40 436.45L315.00 435.53Z" fill="#f39022"/>
<path d="M322.80 434.60L324.40 435.53L326.00 436.45L326.00 438.30L326.00 440.15L324.40 441.07L322.80 442.00L321.20 441.07L319.60 440.15L319.60 438.30L319.60 436.45L321.20 435.53Z" fill="#f39022"/>
<path d="M329.00 434.60L330.60 435.53L332.20 436.45L332.20 438.30L332.20 440.15L330.60 441.07L329.00 442.00L327.40 441.07L325.80 440.15L325.80 438.30L325.80 436.45L327.40 435.53Z" fill="#f39022"/>
<path d="M282.50 440.00L284.10 440.93L285.70 441.85L285.70 443.70L285.70 445.55L284.10 446.47L282.50 447.40L280.90 446.47L279.30 445.55L279.30 443.70L279.30 441.85L280.90 440.93Z" fill="#f39022"/>
<path d="M288.70 440.00L290.30 440.93L291.90 441.85L291.90 443.70L291.90 445.55L290.30 446.47L288.70 447.40L287.10 446.47L285.50 445.55L285.50 443.70L285.50 441.85L287.10 440.93Z" fill="#f39022"/>
<path d="M294.90 440.00L296.50 440.93L298.10 441.85L298.10 443.70L298.10 445.55L296.50 446.47L294.90 447.40L293.30 446.47L291.70 445.55L291.70 443.70L291.70 441.85L293.30 440.93Z" fill="#f39022"/>
<path d="M301.10 440.00L302.70 440.93L304.30 441.85L304.30 443.70L304.30 445.55L302.70 446.47L301.10 447.40L299.50 446.47L297.90 445.55L297.90 443.70L297.90 441.85L299.50 440.93Z" fill="#f39022"/>
<path d="M307.30 440.00L308.90 440.93L310.50 441.85L310.50 443.70L310.50 445.55L308.90 446.47L307.30 447.40L305.70 446.47L304.10 445.55L304.10 443.70L304.10 441.85L305.70 440.93Z" fill="#f39022"/>
<path d="M313.50 440.00L315.10 440.93L316.70 441.85L316.70 443.70L316.70 445.55L315.10 446.47L313.50 447.40L311.90 446.47L310.30 445.55L310.30 443.70L310.30 441.85L311.90 440.93Z" fill="#f39022"/>
<path d="M319.70 440.00L321.30 440.93L322.90 441.85L322.90 443.70L322.90 445.55L321.30 446.47L319.70 447.40L318.10 446.47L316.50 445.55L316.50 443.70L316.50 441.85L318.10 440.93Z" fill="#f39022"/>
<path d="M279.40 445.30L281.00 446.23L282.60 447.15L282.60 449.00L282.60 450.85L281.00 451.77L279.40 452.70L277.80 451.77L276.20 450.85L276.20 449.00L276.20 447.15L277.80 446.23Z" fill="#f39022"/>
<path d="M285.60 445.30L287.20 446.23L288.80 447.15L288.80 449.00L288.80 450.85L287.20 451.77L285.60 452.70L284.00 451.77L282.40 450.85L282.40 449.00L282.40 447.15L284.00 446.23Z" fill="#f39022"/>
<path d="M291.80 445.30L293.40 446.23L295.00 447.15L295.00 449.00L295.00 450.85L293.40 451.77L291.80 452.70L290.20 451.77L288.60 450.85L288.60 449.00L288.60 447.15L290.20 446.23Z" fill="#f39022"/>
<path d="M298.00 445.30L299.60 446.23L301.20 447.15L301.20 449.00L301.20 450.85L299.60 451.77L298.00 452.70L296.40 451.77L294.80 450.85L294.80 449.00L294.80 447.15L296.40 446.23Z" fill="#f39022"/>
<path d="M304.20 445.30L305.80 446.23L307.40 447.15L307.40 449.00L307.40 450.85L305.80 451.77L304.20 452.70L302.60 451.77L301.00 450.85L301.00 449.00L301.00 447.15L302.60 446.23Z" fill="#f39022"/>
<path d="M310.40 445.30L312.00 446.23L313.60 447.15L313.60 449.00L313.60 450.85L312.00 451.77L310.40 452.70L308.80 451.77L307.20 450.85L307.20 449.00L307.20 447.15L308.80 446.23Z" fill="#f39022"/>
<path d="M282.50 450.70L284.10 451.62L285.70 452.55L285.70 454.40L285.70 456.25L284.10 457.17L282.50 458.10L280.90 457.17L279.30 456.25L279.30 454.40L279.30 452.55L280.90 451.62Z" fill="#f39022"/>
<path d="M288.70 450.70L290.30 451.62L291.90 452.55L291.90 454.40L291.90 456.25L290.30 457.17L288.70 458.10L287.10 457.17L285.50 456.25L285.50 454.40L285.50 452.55L287.10 451.62Z" fill="#f39022"/>
<path d="M294.90 450.70L296.50 451.62L298.10 452.55L298.10 454.40L298.10 456.25L296.50 457.17L294.90 458.10L293.30 457.17L291.70 456.25L291.70 454.40L291.70 452.55L293.30 451.62Z" fill="#f39022"/>
<path d="M301.10 450.70L302.70 451.62L304.30 452.55L304.30 454.40L304.30 456.25L302.70 457.17L301.10 458.10L299.50 457.17L297.90 456.25L297.90 454.40L297.90 452.55L299.50 451.62Z" fill="#f39022"/>
<path d="M307.30 450.70L308.90 451.62L310.50 452.55L310.50 454.40L310.50 456.25L308.90 457.17L307.30 458.10L305.70 457.17L304.10 456.25L304.10 454.40L304.10 452.55L305.70 451.62Z" fill="#f39022"/>
<path d="M306.20 422.80L307.80 423.73L309.40 424.65L309.40 426.50L309.40 428.35L307.80 429.27L306.20 430.20L304.60 429.27L303.00 428.35L303.00 426.50L303.00 424.65L304.60 423.73Z" fill="#f39022"/>
<path d="M319.00 419.40L320.60 420.33L322.20 421.25L322.20 423.10L322.20 424.95L320.60 425.88L319.00 426.80L317.40 425.88L315.80 424.95L315.80 423.10L315.80 421.25L317.40 420.33Z" fill="#f39022"/>
<path d="M323.30 421.90L324.90 422.83L326.50 423.75L326.50 425.60L326.50 427.45L324.90 428.38L323.30 429.30L321.70 428.38L320.10 427.45L320.10 425.60L320.10 423.75L321.70 422.83Z" fill="#f39022"/>
<path d="M313.00 426.20L314.60 427.12L316.20 428.05L316.20 429.90L316.20 431.75L314.60 432.67L313.00 433.60L311.40 432.67L309.80 431.75L309.80 429.90L309.80 428.05L311.40 427.12Z" fill="#f39022"/>
<path d="M298.50 428.80L300.10 429.73L301.70 430.65L301.70 432.50L301.70 434.35L300.10 435.27L298.50 436.20L296.90 435.27L295.30 434.35L295.30 432.50L295.30 430.65L296.90 429.73Z" fill="#f39022"/>
<path d="M307.90 430.50L309.50 431.43L311.10 432.35L311.10 434.20L311.10 436.05L309.50 436.97L307.90 437.90L306.30 436.97L304.70 436.05L304.70 434.20L304.70 432.35L306.30 431.43Z" fill="#f39022"/>
<path d="M317.30 432.20L318.90 433.12L320.50 434.05L320.50 435.90L320.50 437.75L318.90 438.67L317.30 439.60L315.70 438.67L314.10 437.75L314.10 435.90L314.10 434.05L315.70 433.12Z" fill="#f39022"/>
<path d="M325.80 434.80L327.40 435.73L329.00 436.65L329.00 438.50L329.00 440.35L327.40 441.27L325.80 442.20L324.20 441.27L322.60 440.35L322.60 438.50L322.60 436.65L324.20 435.73Z" fill="#f39022"/>
<path d="M331.00 435.60L332.60 436.53L334.20 437.45L334.20 439.30L334.20 441.15L332.60 442.07L331.00 443.00L329.40 442.07L327.80 441.15L327.80 439.30L327.80 437.45L329.40 436.53Z" fill="#f39022"/>
<path d="M301.90 435.60L303.50 436.53L305.10 437.45L305.10 439.30L305.10 441.15L303.50 442.07L301.90 443.00L300.30 442.07L298.70 441.15L298.70 439.30L298.70 437.45L300.30 436.53Z" fill="#f39022"/>
<path d="M296.80 437.30L298.40 438.23L300.00 439.15L300.00 441.00L300.00 442.85L298.40 443.77L296.80 444.70L295.20 443.77L293.60 442.85L293.60 441.00L293.60 439.15L295.20 438.23Z" fill="#f39022"/>
<path d="M308.70 438.20L310.30 439.12L311.90 440.05L311.90 441.90L311.90 443.75L310.30 444.67L308.70 445.60L307.10 444.67L305.50 443.75L305.50 441.90L305.50 440.05L307.10 439.12Z" fill="#f39022"/>
<path d="M313.90 440.70L315.50 441.62L317.10 442.55L317.10 444.40L317.10 446.25L315.50 447.17L313.90 448.10L312.30 447.17L310.70 446.25L310.70 444.40L310.70 442.55L312.30 441.62Z" fill="#f39022"/>
<path d="M284.00 438.20L285.60 439.12L287.20 440.05L287.20 441.90L287.20 443.75L285.60 444.67L284.00 445.60L282.40 444.67L280.80 443.75L280.80 441.90L280.80 440.05L282.40 439.12Z" fill="#f39022"/>
<path d="M282.20 447.60L283.80 448.53L285.40 449.45L285.40 451.30L285.40 453.15L283.80 454.07L282.20 455.00L280.60 454.07L279.00 453.15L279.00 451.30L279.00 449.45L280.60 448.53Z" fill="#f39022"/>
<path d="M278.00 447.60L279.60 448.53L281.20 449.45L281.20 451.30L281.20 453.15L279.60 454.07L278.00 455.00L276.40 454.07L274.80 453.15L274.80 451.30L274.80 449.45L276.40 448.53Z" fill="#f39022"/>
<path d="M288.20 449.30L289.80 450.23L291.40 451.15L291.40 453.00L291.40 454.85L289.80 455.77L288.20 456.70L286.60 455.77L285.00 454.85L285.00 453.00L285.00 451.15L286.60 450.23Z" fill="#f39022"/>
<path d="M300.20 445.90L301.80 446.83L303.40 447.75L303.40 449.60L303.40 451.45L301.80 452.38L300.20 453.30L298.60 452.38L297.00 451.45L297.00 449.60L297.00 447.75L298.60 446.83Z" fill="#f39022"/>
<path d="M307.00 445.00L308.60 445.93L310.20 446.85L310.20 448.70L310.20 450.55L308.60 451.47L307.00 452.40L305.40 451.47L303.80 450.55L303.80 448.70L303.80 446.85L305.40 445.93Z" fill="#f39022"/>
<path d="M314.70 445.90L316.30 446.83L317.90 447.75L317.90 449.60L317.90 451.45L316.30 452.38L314.70 453.30L313.10 452.38L311.50 451.45L311.50 449.60L311.50 447.75L313.10 446.83Z" fill="#f39022"/>
<path d="M286.50 454.40L288.10 455.33L289.70 456.25L289.70 458.10L289.70 459.95L288.10 460.88L286.50 461.80L284.90 460.88L283.30 459.95L283.30 458.10L283.30 456.25L284.90 455.33Z" fill="#f39022"/>
<path d="M291.60 456.10L293.20 457.03L294.80 457.95L294.80 459.80L294.80 461.65L293.20 462.57L291.60 463.50L290.00 462.57L288.40 461.65L288.40 459.80L288.40 457.95L290.00 457.03Z" fill="#f39022"/>
<path d="M300.20 452.70L301.80 453.62L303.40 454.55L303.40 456.40L303.40 458.25L301.80 459.17L300.20 460.10L298.60 459.17L297.00 458.25L297.00 456.40L297.00 454.55L298.60 453.62Z" fill="#f39022"/>
<path d="M336.90 420.20L338.50 421.12L340.10 422.05L340.10 423.90L340.10 425.75L338.50 426.67L336.90 427.60L335.30 426.67L333.70 425.75L333.70 423.90L333.70 422.05L335.30 421.12Z" fill="#f39022"/>
<path d="M339.50 416.80L341.10 417.73L342.70 418.65L342.70 420.50L342.70 422.35L341.10 423.27L339.50 424.20L337.90 423.27L336.30 422.35L336.30 420.50L336.30 418.65L337.90 417.73Z" fill="#f39022"/>
<path d="M344.60 413.40L346.20 414.33L347.80 415.25L347.80 417.10L347.80 418.95L346.20 419.88L344.60 420.80L343.00 419.88L341.40 418.95L341.40 417.10L341.40 415.25L343.00 414.33Z" fill="#f39022"/>
<path d="M334.40 424.50L336.00 425.43L337.60 426.35L337.60 428.20L337.60 430.05L336.00 430.97L334.40 431.90L332.80 430.97L331.20 430.05L331.20 428.20L331.20 426.35L332.80 425.43Z" fill="#f39022"/>
<path d="M338.60 432.20L340.20 433.12L341.80 434.05L341.80 435.90L341.80 437.75L340.20 438.67L338.60 439.60L337.00 438.67L335.40 437.75L335.40 435.90L335.40 434.05L337.00 433.12Z" fill="#f39022"/>
<path d="M343.80 426.20L345.40 427.12L347.00 428.05L347.00 429.90L347.00 431.75L345.40 432.67L343.80 433.60L342.20 432.67L340.60 431.75L340.60 429.90L340.60 428.05L342.20 427.12Z" fill="#f39022"/>
<path d="M380.40 406.20L382.00 407.12L383.60 408.05L383.60 409.90L383.60 411.75L382.00 412.67L380.40 413.60L378.80 412.67L377.20 411.75L377.20 409.90L377.20 408.05L378.80 407.12Z" fill="#f39022"/>
<path d="M347.10 413.90L348.70 414.83L350.30 415.75L350.30 417.60L350.30 419.45L348.70 420.38L347.10 421.30L345.50 420.38L343.90 419.45L343.90 417.60L343.90 415.75L345.50 414.83Z" fill="#f39022"/>
<path d="M351.40 416.50L353.00 417.43L354.60 418.35L354.60 420.20L354.60 422.05L353.00 422.97L351.40 423.90L349.80 422.97L348.20 422.05L348.20 420.20L348.20 418.35L349.80 417.43Z" fill="#f39022"/>
<path d="M341.10 418.20L342.70 419.12L344.30 420.05L344.30 421.90L344.30 423.75L342.70 424.67L341.10 425.60L339.50 424.67L337.90 423.75L337.90 421.90L337.90 420.05L339.50 419.12Z" fill="#f39022"/>
<path d="M336.00 422.50L337.60 423.43L339.20 424.35L339.20 426.20L339.20 428.05L337.60 428.97L336.00 429.90L334.40 428.97L332.80 428.05L332.80 426.20L332.80 424.35L334.40 423.43Z" fill="#f39022"/>
<path d="M333.40 425.00L335.00 425.93L336.60 426.85L336.60 428.70L336.60 430.55L335.00 431.47L333.40 432.40L331.80 431.47L330.20 430.55L330.20 428.70L330.20 426.85L331.80 425.93Z" fill="#f39022"/>
<path d="M350.50 423.30L352.10 424.23L353.70 425.15L353.70 427.00L353.70 428.85L352.10 429.77L350.50 430.70L348.90 429.77L347.30 428.85L347.30 427.00L347.30 425.15L348.90 424.23Z" fill="#f39022"/>
<path d="M343.70 428.40L345.30 429.33L346.90 430.25L346.90 432.10L346.90 433.95L345.30 434.88L343.70 435.80L342.10 434.88L340.50 433.95L340.50 432.10L340.50 430.25L342.10 429.33Z" fill="#f39022"/>
<path d="M338.50 432.70L340.10 433.62L341.70 434.55L341.70 436.40L341.70 438.25L340.10 439.17L338.50 440.10L336.90 439.17L335.30 438.25L335.30 436.40L335.30 434.55L336.90 433.62Z" fill="#f39022"/>
<path d="M330.90 433.60L332.50 434.53L334.10 435.45L334.10 437.30L334.10 439.15L332.50 440.07L330.90 441.00L329.30 440.07L327.70 439.15L327.70 437.30L327.70 435.45L329.30 434.53Z" fill="#f39022"/>
<path d="M338.50 433.50L340.10 434.43L341.70 435.35L341.70 437.20L341.70 439.05L340.10 439.97L338.50 440.90L336.90 439.97L335.30 439.05L335.30 437.20L335.30 435.35L336.90 434.43Z" fill="#f39022"/>
<path d="M344.20 429.00L345.80 429.93L347.40 430.85L347.40 432.70L347.40 434.55L345.80 435.47L344.20 436.40L342.60 435.47L341.00 434.55L341.00 432.70L341.00 430.85L342.60 429.93Z" fill="#f39022"/>
<path d="M350.00 423.20L351.60 424.12L353.20 425.05L353.20 426.90L353.20 428.75L351.60 429.67L350.00 430.60L348.40 429.67L346.80 428.75L346.80 426.90L346.80 425.05L348.40 424.12Z" fill="#f39022"/>
<path d="M329.50 435.40L331.10 436.33L332.70 437.25L332.70 439.10L332.70 440.95L331.10 441.88L329.50 442.80L327.90 441.88L326.30 440.95L326.30 439.10L326.30 437.25L327.90 436.33Z" fill="#f39022"/>
<path d="M324.40 434.10L326.00 435.03L327.60 435.95L327.60 437.80L327.60 439.65L326.00 440.57L324.40 441.50L322.80 440.57L321.20 439.65L321.20 437.80L321.20 435.95L322.80 435.03Z" fill="#f39022"/>
<path d="M319.20 432.80L320.80 433.73L322.40 434.65L322.40 436.50L322.40 438.35L320.80 439.27L319.20 440.20L317.60 439.27L316.00 438.35L316.00 436.50L316.00 434.65L317.60 433.73Z" fill="#f39022"/>
<path d="M312.80 433.50L314.40 434.43L316.00 435.35L316.00 437.20L316.00 439.05L314.40 439.97L312.80 440.90L311.20 439.97L309.60 439.05L309.60 437.20L309.60 435.35L311.20 434.43Z" fill="#f39022"/>
<path d="M305.80 423.20L307.40 424.12L309.00 425.05L309.00 426.90L309.00 428.75L307.40 429.67L305.80 430.60L304.20 429.67L302.60 428.75L302.60 426.90L302.60 425.05L304.20 424.12Z" fill="#f39022"/>
<path d="M311.50 427.10L313.10 428.03L314.70 428.95L314.70 430.80L314.70 432.65L313.10 433.57L311.50 434.50L309.90 433.57L308.30 432.65L308.30 430.80L308.30 428.95L309.90 428.03Z" fill="#f39022"/>
<path d="M318.00 423.90L319.60 424.83L321.20 425.75L321.20 427.60L321.20 429.45L319.60 430.38L318.00 431.30L316.40 430.38L314.80 429.45L314.80 427.60L314.80 425.75L316.40 424.83Z" fill="#f39022"/>
<path d="M323.00 422.60L324.60 423.53L326.20 424.45L326.20 426.30L326.20 428.15L324.60 429.07L323.00 430.00L321.40 429.07L319.80 428.15L319.80 426.30L319.80 424.45L321.40 423.53Z" fill="#f39022"/>
<path d="M334.60 423.90L336.20 424.83L337.80 425.75L337.80 427.60L337.80 429.45L336.20 430.38L334.60 431.30L333.00 430.38L331.40 429.45L331.40 427.60L331.40 425.75L333.00 424.83Z" fill="#f39022"/>
<path d="M292.00 442.30L293.60 443.23L295.20 444.15L295.20 446.00L295.20 447.85L293.60 448.77L292.00 449.70L290.40 448.77L288.80 447.85L288.80 446.00L288.80 444.15L290.40 443.23Z" fill="#f39022"/>
<path d="M296.00 448.30L297.60 449.23L299.20 450.15L299.20 452.00L299.20 453.85L297.60 454.77L296.00 455.70L294.40 454.77L292.80 453.85L292.80 452.00L292.80 450.15L294.40 449.23Z" fill="#f39022"/>
<path d="M304.00 441.30L305.60 442.23L307.20 443.15L307.20 445.00L307.20 446.85L305.60 447.77L304.00 448.70L302.40 447.77L300.80 446.85L300.80 445.00L300.80 443.15L302.40 442.23Z" fill="#f39022"/>
<path d="M310.00 449.30L311.60 450.23L313.20 451.15L313.20 453.00L313.20 454.85L311.60 455.77L310.00 456.70L308.40 455.77L306.80 454.85L306.80 453.00L306.80 451.15L308.40 450.23Z" fill="#f39022"/>
<path d="M292.00 433.30L293.60 434.23L295.20 435.15L295.20 437.00L295.20 438.85L293.60 439.77L292.00 440.70L290.40 439.77L288.80 438.85L288.80 437.00L288.80 435.15L290.40 434.23Z" fill="#f39022"/>
<path d="M303.00 426.30L304.60 427.23L306.20 428.15L306.20 430.00L306.20 431.85L304.60 432.77L303.00 433.70L301.40 432.77L299.80 431.85L299.80 430.00L299.80 428.15L301.40 427.23Z" fill="#f39022"/>
<path d="M286.00 443.30L287.60 444.23L289.20 445.15L289.20 447.00L289.20 448.85L287.60 449.77L286.00 450.70L284.40 449.77L282.80 448.85L282.80 447.00L282.80 445.15L284.40 444.23Z" fill="#f39022"/>
<path d="M348.40 433.90L350.21 435.21L352.01 436.53L351.32 438.65L350.63 440.77L348.40 440.77L346.17 440.77L345.48 438.65L344.79 436.53L346.59 435.21Z" fill="#1aa6e4"/>
<path d="M353.90 433.90L355.71 435.21L357.51 436.53L356.82 438.65L356.13 440.77L353.90 440.77L351.67 440.77L350.98 438.65L350.29 436.53L352.09 435.21Z" fill="#1aa6e4"/>
<path d="M359.40 433.90L361.21 435.21L363.01 436.53L362.32 438.65L361.63 440.77L359.40 440.77L357.17 440.77L356.48 438.65L355.79 436.53L357.59 435.21Z" fill="#1aa6e4"/>
<path d="M364.90 433.90L366.71 435.21L368.51 436.53L367.82 438.65L367.13 440.77L364.90 440.77L362.67 440.77L361.98 438.65L361.29 436.53L363.09 435.21Z" fill="#1aa6e4"/>
<path d="M370.40 433.90L372.21 435.21L374.01 436.53L373.32 438.65L372.63 440.77L370.40 440.77L368.17 440.77L367.48 438.65L366.79 436.53L368.59 435.21Z" fill="#1aa6e4"/>
<path d="M375.90 433.90L377.71 435.21L379.51 436.53L378.82 438.65L378.13 440.77L375.90 440.77L373.67 440.77L372.98 438.65L372.29 436.53L374.09 435.21Z" fill="#1aa6e4"/>
<path d="M381.40 433.90L383.21 435.21L385.01 436.53L384.32 438.65L383.63 440.77L381.40 440.77L379.17 440.77L378.48 438.65L377.79 436.53L379.59 435.21Z" fill="#1aa6e4"/>
<path d="M345.60 438.60L347.41 439.91L349.21 441.23L348.52 443.35L347.83 445.47L345.60 445.47L343.37 445.47L342.68 443.35L341.99 441.23L343.79 439.91Z" fill="#1aa6e4"/>
<path d="M351.10 438.60L352.91 439.91L354.71 441.23L354.02 443.35L353.33 445.47L351.10 445.47L348.87 445.47L348.18 443.35L347.49 441.23L349.29 439.91Z" fill="#1aa6e4"/>
<path d="M356.60 438.60L358.41 439.91L360.21 441.23L359.52 443.35L358.83 445.47L356.60 445.47L354.37 445.47L353.68 443.35L352.99 441.23L354.79 439.91Z" fill="#1aa6e4"/>
<path d="M362.10 438.60L363.91 439.91L365.71 441.23L365.02 443.35L364.33 445.47L362.10 445.47L359.87 445.47L359.18 443.35L358.49 441.23L360.29 439.91Z" fill="#1aa6e4"/>
<path d="M367.60 438.60L369.41 439.91L371.21 441.23L370.52 443.35L369.83 445.47L367.60 445.47L365.37 445.47L364.68 443.35L363.99 441.23L365.79 439.91Z" fill="#1aa6e4"/>
<path d="M373.10 438.60L374.91 439.91L376.71 441.23L376.02 443.35L375.33 445.47L373.10 445.47L370.87 445.47L370.18 443.35L369.49 441.23L371.29 439.91Z" fill="#1aa6e4"/>
<path d="M378.60 438.60L380.41 439.91L382.21 441.23L381.52 443.35L380.83 445.47L378.60 445.47L376.37 445.47L375.68 443.35L374.99 441.23L376.79 439.91Z" fill="#1aa6e4"/>
<path d="M384.10 438.60L385.91 439.91L387.71 441.23L387.02 443.35L386.33 445.47L384.10 445.47L381.87 445.47L381.18 443.35L380.49 441.23L382.29 439.91Z" fill="#1aa6e4"/>
<path d="M342.90 443.40L344.71 444.71L346.51 446.03L345.82 448.15L345.13 450.27L342.90 450.27L340.67 450.27L339.98 448.15L339.29 446.03L341.09 444.71Z" fill="#1aa6e4"/>
<path d="M348.40 443.40L350.21 444.71L352.01 446.03L351.32 448.15L350.63 450.27L348.40 450.27L346.17 450.27L345.48 448.15L344.79 446.03L346.59 444.71Z" fill="#1aa6e4"/>
<path d="M353.90 443.40L355.71 444.71L357.51 446.03L356.82 448.15L356.13 450.27L353.90 450.27L351.67 450.27L350.98 448.15L350.29 446.03L352.09 444.71Z" fill="#1aa6e4"/>
<path d="M359.40 443.40L361.21 444.71L363.01 446.03L362.32 448.15L361.63 450.27L359.40 450.27L357.17 450.27L356.48 448.15L355.79 446.03L357.59 444.71Z" fill="#1aa6e4"/>
<path d="M364.90 443.40L366.71 444.71L368.51 446.03L367.82 448.15L367.13 450.27L364.90 450.27L362.67 450.27L361.98 448.15L361.29 446.03L363.09 444.71Z" fill="#1aa6e4"/>
<path d="M370.40 443.40L372.21 444.71L374.01 446.03L373.32 448.15L372.63 450.27L370.40 450.27L368.17 450.27L367.48 448.15L366.79 446.03L368.59 444.71Z" fill="#1aa6e4"/>
<path d="M375.90 443.40L377.71 444.71L379.51 446.03L378.82 448.15L378.13 450.27L375.90 450.27L373.67 450.27L372.98 448.15L372.29 446.03L374.09 444.71Z" fill="#1aa6e4"/>
<path d="M317.30 454.30L319.11 455.61L320.91 456.93L320.22 459.05L319.53 461.17L317.30 461.17L315.07 461.17L314.38 459.05L313.69 456.93L315.49 455.61Z" fill="#1aa6e4"/>
<path d="M325.00 455.20L326.81 456.51L328.61 457.83L327.92 459.95L327.23 462.07L325.00 462.07L322.77 462.07L322.08 459.95L321.39 457.83L323.19 456.51Z" fill="#1aa6e4"/>
<path d="M327.50 447.50L329.31 448.81L331.11 450.13L330.42 452.25L329.73 454.37L327.50 454.37L325.27 454.37L324.58 452.25L323.89 450.13L325.69 448.81Z" fill="#1aa6e4"/>
<path d="M331.00 442.40L332.81 443.71L334.61 445.03L333.92 447.15L333.23 449.27L331.00 449.27L328.77 449.27L328.08 447.15L327.39 445.03L329.19 443.71Z" fill="#1aa6e4"/>
<path d="M336.90 445.80L338.71 447.11L340.51 448.43L339.82 450.55L339.13 452.67L336.90 452.67L334.67 452.67L333.98 450.55L333.29 448.43L335.09 447.11Z" fill="#1aa6e4"/>
<path d="M342.10 445.80L343.91 447.11L345.71 448.43L345.02 450.55L344.33 452.67L342.10 452.67L339.87 452.67L339.18 450.55L338.49 448.43L340.29 447.11Z" fill="#1aa6e4"/>
<path d="M344.60 438.10L346.41 439.41L348.21 440.73L347.52 442.85L346.83 444.97L344.60 444.97L342.37 444.97L341.68 442.85L340.99 440.73L342.79 439.41Z" fill="#1aa6e4"/>
<path d="M391.50 424.10L393.31 425.41L395.11 426.73L394.42 428.85L393.73 430.97L391.50 430.97L389.27 430.97L388.58 428.85L387.89 426.73L389.69 425.41Z" fill="#1aa6e4"/>
<path d="M355.60 431.80L357.41 433.11L359.21 434.43L358.52 436.55L357.83 438.67L355.60 438.67L353.37 438.67L352.68 436.55L351.99 434.43L353.79 433.11Z" fill="#1aa6e4"/>
<path d="M372.70 431.80L374.51 433.11L376.31 434.43L375.62 436.55L374.93 438.67L372.70 438.67L370.47 438.67L369.78 436.55L369.09 434.43L370.89 433.11Z" fill="#1aa6e4"/>
<path d="M383.00 432.60L384.81 433.91L386.61 435.23L385.92 437.35L385.23 439.47L383.00 439.47L380.77 439.47L380.08 437.35L379.39 435.23L381.19 433.91Z" fill="#1aa6e4"/>
<path d="M391.30 424.70L393.11 426.01L394.91 427.33L394.22 429.45L393.53 431.57L391.30 431.57L389.07 431.57L388.38 429.45L387.69 427.33L389.49 426.01Z" fill="#1aa6e4"/>
<path d="M356.00 432.20L357.81 433.51L359.61 434.83L358.92 436.95L358.23 439.07L356.00 439.07L353.77 439.07L353.08 436.95L352.39 434.83L354.19 433.51Z" fill="#1aa6e4"/>
<path d="M372.00 431.20L373.81 432.51L375.61 433.83L374.92 435.95L374.23 438.07L372.00 438.07L369.77 438.07L369.08 435.95L368.39 433.83L370.19 432.51Z" fill="#1aa6e4"/>
<path d="M382.70 433.30L384.51 434.61L386.31 435.93L385.62 438.05L384.93 440.17L382.70 440.17L380.47 440.17L379.78 438.05L379.09 435.93L380.89 434.61Z" fill="#1aa6e4"/>
<path d="M378.50 436.50L380.31 437.81L382.11 439.13L381.42 441.25L380.73 443.37L378.50 443.37L376.27 443.37L375.58 441.25L374.89 439.13L376.69 437.81Z" fill="#1aa6e4"/>
<path d="M346.40 438.60L348.21 439.91L350.01 441.23L349.32 443.35L348.63 445.47L346.40 445.47L344.17 445.47L343.48 443.35L342.79 441.23L344.59 439.91Z" fill="#1aa6e4"/>
<path d="M352.80 439.70L354.61 441.01L356.41 442.33L355.72 444.45L355.03 446.57L352.80 446.57L350.57 446.57L349.88 444.45L349.19 442.33L350.99 441.01Z" fill="#1aa6e4"/>
<path d="M361.40 446.10L363.21 447.41L365.01 448.73L364.32 450.85L363.63 452.97L361.40 452.97L359.17 452.97L358.48 450.85L357.79 448.73L359.59 447.41Z" fill="#1aa6e4"/>
<path d="M369.90 442.90L371.71 444.21L373.51 445.53L372.82 447.65L372.13 449.77L369.90 449.77L367.67 449.77L366.98 447.65L366.29 445.53L368.09 444.21Z" fill="#1aa6e4"/>
<path d="M341.10 446.10L342.91 447.41L344.71 448.73L344.02 450.85L343.33 452.97L341.10 452.97L338.87 452.97L338.18 450.85L337.49 448.73L339.29 447.41Z" fill="#1aa6e4"/>
<path d="M361.40 454.70L363.21 456.01L365.01 457.33L364.32 459.45L363.63 461.57L361.40 461.57L359.17 461.57L358.48 459.45L357.79 457.33L359.59 456.01Z" fill="#1aa6e4"/>
<path d="M374.20 438.60L376.01 439.91L377.81 441.23L377.12 443.35L376.43 445.47L374.20 445.47L371.97 445.47L371.28 443.35L370.59 441.23L372.39 439.91Z" fill="#1aa6e4"/>
<path d="M367.80 434.40L369.61 435.71L371.41 437.03L370.72 439.15L370.03 441.27L367.80 441.27L365.57 441.27L364.88 439.15L364.19 437.03L365.99 435.71Z" fill="#1aa6e4"/>
<path d="M316.70 453.90L318.51 455.21L320.31 456.53L319.62 458.65L318.93 460.77L316.70 460.77L314.47 460.77L313.78 458.65L313.09 456.53L314.89 455.21Z" fill="#1aa6e4"/>
<path d="M325.60 454.50L327.41 455.81L329.21 457.13L328.52 459.25L327.83 461.37L325.60 461.37L323.37 461.37L322.68 459.25L321.99 457.13L323.79 455.81Z" fill="#1aa6e4"/>
<path d="M326.30 448.10L328.11 449.41L329.91 450.73L329.22 452.85L328.53 454.97L326.30 454.97L324.07 454.97L323.38 452.85L322.69 450.73L324.49 449.41Z" fill="#1aa6e4"/>
<path d="M330.10 443.00L331.91 444.31L333.71 445.63L333.02 447.75L332.33 449.87L330.10 449.87L327.87 449.87L327.18 447.75L326.49 445.63L328.29 444.31Z" fill="#1aa6e4"/>
<path d="M337.20 446.20L339.01 447.51L340.81 448.83L340.12 450.95L339.43 453.07L337.20 453.07L334.97 453.07L334.28 450.95L333.59 448.83L335.39 447.51Z" fill="#1aa6e4"/>
<path d="M341.00 446.20L342.81 447.51L344.61 448.83L343.92 450.95L343.23 453.07L341.00 453.07L338.77 453.07L338.08 450.95L337.39 448.83L339.19 447.51Z" fill="#1aa6e4"/>
<path d="M346.20 438.50L348.01 439.81L349.81 441.13L349.12 443.25L348.43 445.37L346.20 445.37L343.97 445.37L343.28 443.25L342.59 441.13L344.39 439.81Z" fill="#1aa6e4"/>
<path d="M351.30 441.70L353.11 443.01L354.91 444.33L354.22 446.45L353.53 448.57L351.30 448.57L349.07 448.57L348.38 446.45L347.69 444.33L349.49 443.01Z" fill="#1aa6e4"/>
<path d="M356.40 445.60L358.21 446.91L360.01 448.23L359.32 450.35L358.63 452.47L356.40 452.47L354.17 452.47L353.48 450.35L352.79 448.23L354.59 446.91Z" fill="#1aa6e4"/>
<path d="M355.10 431.50L356.91 432.81L358.71 434.13L358.02 436.25L357.33 438.37L355.10 438.37L352.87 438.37L352.18 436.25L351.49 434.13L353.29 432.81Z" fill="#1aa6e4"/>
<path d="M359.00 435.30L360.81 436.61L362.61 437.93L361.92 440.05L361.23 442.17L359.00 442.17L356.77 442.17L356.08 440.05L355.39 437.93L357.19 436.61Z" fill="#1aa6e4"/>
<path d="M361.00 450.20L362.81 451.51L364.61 452.83L363.92 454.95L363.23 457.07L361.00 457.07L358.77 457.07L358.08 454.95L357.39 452.83L359.19 451.51Z" fill="#1aa6e4"/>
<path d="M366.00 439.20L367.81 440.51L369.61 441.83L368.92 443.95L368.23 446.07L366.00 446.07L363.77 446.07L363.08 443.95L362.39 441.83L364.19 440.51Z" fill="#1aa6e4"/>
<path d="M358.00 442.20L359.81 443.51L361.61 444.83L360.92 446.95L360.23 449.07L358.00 449.07L355.77 449.07L355.08 446.95L354.39 444.83L356.19 443.51Z" fill="#1aa6e4"/>
<path d="M287.40 441.60L289.00 442.53L290.60 443.45L290.60 445.30L290.60 447.15L289.00 448.07L287.40 449.00L285.80 448.07L284.20 447.15L284.20 445.30L284.20 443.45L285.80 442.53Z" fill="#fff" stroke="#13318f" stroke-width="1.8"/>
<path d="M293.40 442.50L295.00 443.43L296.60 444.35L296.60 446.20L296.60 448.05L295.00 448.97L293.40 449.90L291.80 448.97L290.20 448.05L290.20 446.20L290.20 444.35L291.80 443.43Z" fill="#fff" stroke="#13318f" stroke-width="1.8"/>
<path d="M292.50 446.70L294.10 447.62L295.70 448.55L295.70 450.40L295.70 452.25L294.10 453.17L292.50 454.10L290.90 453.17L289.30 452.25L289.30 450.40L289.30 448.55L290.90 447.62Z" fill="#fff" stroke="#13318f" stroke-width="1.8"/>
<path d="M297.10 445.90L298.70 446.83L300.30 447.75L300.30 449.60L300.30 451.45L298.70 452.38L297.10 453.30L295.50 452.38L293.90 451.45L293.90 449.60L293.90 447.75L295.50 446.83Z" fill="#fff" stroke="#13318f" stroke-width="1.8"/>
<path d="M363.30 432.00L365.01 433.24L366.72 434.49L366.07 436.50L365.42 438.51L363.30 438.51L361.18 438.51L360.53 436.50L359.88 434.49L361.59 433.24Z" fill="#fff" stroke="#13318f" stroke-width="1.8"/>
<path d="M363.10 443.10L364.81 444.34L366.52 445.59L365.87 447.60L365.22 449.61L363.10 449.61L360.98 449.61L360.33 447.60L359.68 445.59L361.39 444.34Z" fill="#fff" stroke="#13318f" stroke-width="1.8"/>
<path d="M400.90 452.70L402.61 453.94L404.32 455.19L403.67 457.20L403.02 459.21L400.90 459.21L398.78 459.21L398.13 457.20L397.48 455.19L399.19 453.94Z" fill="#fff" stroke="#13318f" stroke-width="1.8"/>
<path d="M414.40 455.90L416.11 457.14L417.82 458.39L417.17 460.40L416.52 462.41L414.40 462.41L412.28 462.41L411.63 460.40L410.98 458.39L412.69 457.14Z" fill="#fff" stroke="#13318f" stroke-width="1.8"/>
<path d="M276.30 370.50L278.25 371.92L280.20 373.33L279.45 375.62L278.71 377.92L276.30 377.92L273.89 377.92L273.15 375.62L272.40 373.33L274.35 371.92Z" fill="#1aa6e4"/>
<path d="M275.80 378.20L277.40 379.12L279.00 380.05L279.00 381.90L279.00 383.75L277.40 384.67L275.80 385.60L274.20 384.67L272.60 383.75L272.60 381.90L272.60 380.05L274.20 379.12Z" fill="#f39022"/>
<path d="M276.30 386.60L278.01 387.84L279.72 389.09L279.07 391.10L278.42 393.11L276.30 393.11L274.18 393.11L273.53 391.10L272.88 389.09L274.59 387.84Z" fill="#fff" stroke="#13318f" stroke-width="1.8"/>
<path d="M276.00 395.80L277.43 396.62L278.86 397.45L278.86 399.10L278.86 400.75L277.43 401.58L276.00 402.40L274.57 401.58L273.14 400.75L273.14 399.10L273.14 397.45L274.57 396.62Z" fill="#fff" stroke="#13318f" stroke-width="1.8"/>
<text x="285" y="376.9" class="lg" textLength="50.6" lengthAdjust="spacingAndGlyphs">Xinjiang-East sieve</text>
<text x="285" y="384.4" class="lg" textLength="63.5" lengthAdjust="spacingAndGlyphs">Geermu (Golmud) sieve</text>
<text x="285" y="392.6" class="lg" textLength="24.5" lengthAdjust="spacingAndGlyphs">Blind test</text>
<text x="285" y="401.6" class="lg" textLength="24.5" lengthAdjust="spacingAndGlyphs">Blind test</text>
<text x="34" y="58" class="pl">A</text>
<line x1="58.9" y1="54.3" x2="60.9" y2="54.3" class="tk"/>
<text x="58.1" y="57.1" class="tl" text-anchor="end" textLength="8.79" lengthAdjust="spacingAndGlyphs">50</text>
<line x1="58.9" y1="73.5" x2="60.9" y2="73.5" class="tk"/>
<text x="58.1" y="76.3" class="tl" text-anchor="end" textLength="8.79" lengthAdjust="spacingAndGlyphs">40</text>
<line x1="58.9" y1="92.7" x2="60.9" y2="92.7" class="tk"/>
<text x="58.1" y="95.5" class="tl" text-anchor="end" textLength="8.79" lengthAdjust="spacingAndGlyphs">30</text>
<line x1="58.9" y1="111.9" x2="60.9" y2="111.9" class="tk"/>
<text x="58.1" y="114.7" class="tl" text-anchor="end" textLength="8.79" lengthAdjust="spacingAndGlyphs">20</text>
<line x1="58.9" y1="131.1" x2="60.9" y2="131.1" class="tk"/>
<text x="58.1" y="133.9" class="tl" text-anchor="end" textLength="8.79" lengthAdjust="spacingAndGlyphs">10</text>
<line x1="58.9" y1="150.3" x2="60.9" y2="150.3" class="tk"/>
<text x="58.1" y="153.1" class="tl" text-anchor="end" textLength="4.39" lengthAdjust="spacingAndGlyphs">0</text>
<line x1="58.9" y1="169.5" x2="60.9" y2="169.5" class="tk"/>
<text x="58.1" y="172.3" class="tl" text-anchor="end" textLength="11.42" lengthAdjust="spacingAndGlyphs">-10</text>
<line x1="60.8" y1="178.9" x2="60.8" y2="180.9" class="tk"/>
<text x="60.8" y="187.7" class="tl" text-anchor="middle" textLength="15.81" lengthAdjust="spacingAndGlyphs">-120</text>
<line x1="84.8" y1="178.9" x2="84.8" y2="180.9" class="tk"/>
<text x="84.8" y="187.7" class="tl" text-anchor="middle" textLength="11.42" lengthAdjust="spacingAndGlyphs">-80</text>
<line x1="108.8" y1="178.9" x2="108.8" y2="180.9" class="tk"/>
<text x="108.8" y="187.7" class="tl" text-anchor="middle" textLength="11.42" lengthAdjust="spacingAndGlyphs">-40</text>
<line x1="132.8" y1="178.9" x2="132.8" y2="180.9" class="tk"/>
<text x="132.8" y="187.7" class="tl" text-anchor="middle" textLength="4.39" lengthAdjust="spacingAndGlyphs">0</text>
<line x1="156.8" y1="178.9" x2="156.8" y2="180.9" class="tk"/>
<text x="156.8" y="187.7" class="tl" text-anchor="middle" textLength="8.79" lengthAdjust="spacingAndGlyphs">40</text>
<line x1="180.8" y1="178.9" x2="180.8" y2="180.9" class="tk"/>
<text x="180.8" y="187.7" class="tl" text-anchor="middle" textLength="8.79" lengthAdjust="spacingAndGlyphs">80</text>
<line x1="204.8" y1="178.9" x2="204.8" y2="180.9" class="tk"/>
<text x="204.8" y="187.7" class="tl" text-anchor="middle" textLength="13.18" lengthAdjust="spacingAndGlyphs">120</text>
<line x1="228.8" y1="178.9" x2="228.8" y2="180.9" class="tk"/>
<text x="228.8" y="187.7" class="tl" text-anchor="middle" textLength="13.18" lengthAdjust="spacingAndGlyphs">160</text>
<line x1="60.9" y1="53.8" x2="60.9" y2="178.9" class="ax"/>
<line x1="60.9" y1="178.9" x2="229" y2="178.9" class="ax"/>
<text x="133" y="197.1" class="at" textLength="21.2" lengthAdjust="spacingAndGlyphs">DF Y</text>
<text x="155.2" y="200.3" class="sub" textLength="5.4" lengthAdjust="spacingAndGlyphs">11</text>
<g transform="translate(42.2,139.7) rotate(-90)"><text x="0" y="0" class="at">Y</text><text x="6.8" y="3.8" class="sub" textLength="5.3" lengthAdjust="spacingAndGlyphs">12</text></g>
<text x="177.5" y="163" class="cv" textLength="43.5" lengthAdjust="spacingAndGlyphs">CV<tspan class="csub" dy="1.8">1</tspan><tspan dy="-1.8"> : 99.6%</tspan></text>
<text x="168.2" y="172.6" class="cv" textLength="62.3" lengthAdjust="spacingAndGlyphs">Error rate : 1.43%</text>
<text x="249" y="57.7" class="pl">B</text>
<line x1="264.4" y1="67.8" x2="266.4" y2="67.8" class="tk"/>
<text x="263.6" y="70.6" class="tl" text-anchor="end" textLength="8.79" lengthAdjust="spacingAndGlyphs">30</text>
<line x1="264.4" y1="94.1" x2="266.4" y2="94.1" class="tk"/>
<text x="263.6" y="96.9" class="tl" text-anchor="end" textLength="8.79" lengthAdjust="spacingAndGlyphs">20</text>
<line x1="264.4" y1="120.4" x2="266.4" y2="120.4" class="tk"/>
<text x="263.6" y="123.2" class="tl" text-anchor="end" textLength="8.79" lengthAdjust="spacingAndGlyphs">10</text>
<line x1="264.4" y1="146.7" x2="266.4" y2="146.7" class="tk"/>
<text x="263.6" y="149.5" class="tl" text-anchor="end" textLength="4.39" lengthAdjust="spacingAndGlyphs">0</text>
<line x1="264.4" y1="173" x2="266.4" y2="173" class="tk"/>
<text x="263.6" y="175.8" class="tl" text-anchor="end" textLength="11.42" lengthAdjust="spacingAndGlyphs">-10</text>
<line x1="295.6" y1="179" x2="295.6" y2="181" class="tk"/>
<text x="295.6" y="187.8" class="tl" text-anchor="middle" textLength="11.42" lengthAdjust="spacingAndGlyphs">-20</text>
<line x1="340.5" y1="179" x2="340.5" y2="181" class="tk"/>
<text x="340.5" y="187.8" class="tl" text-anchor="middle" textLength="4.39" lengthAdjust="spacingAndGlyphs">0</text>
<line x1="385.4" y1="179" x2="385.4" y2="181" class="tk"/>
<text x="385.4" y="187.8" class="tl" text-anchor="middle" textLength="8.79" lengthAdjust="spacingAndGlyphs">20</text>
<line x1="430.3" y1="179" x2="430.3" y2="181" class="tk"/>
<text x="430.3" y="187.8" class="tl" text-anchor="middle" textLength="8.79" lengthAdjust="spacingAndGlyphs">40</text>
<line x1="266.4" y1="54.2" x2="266.4" y2="179" class="ax"/>
<line x1="266.4" y1="179" x2="435" y2="179" class="ax"/>
<text x="343.2" y="197.3" class="at" textLength="21.2" lengthAdjust="spacingAndGlyphs">DF Y</text>
<text x="365.4" y="200.5" class="sub" textLength="5.4" lengthAdjust="spacingAndGlyphs">21</text>
<g transform="translate(246.2,139.2) rotate(-90)"><text x="0" y="0" class="at">Y</text><text x="6.8" y="3.8" class="sub" textLength="5.3" lengthAdjust="spacingAndGlyphs">22</text></g>
<text x="381.5" y="163.3" class="cv" textLength="43.5" lengthAdjust="spacingAndGlyphs">CV<tspan class="csub" dy="1.8">2</tspan><tspan dy="-1.8"> : 98.3%</tspan></text>
<text x="373.2" y="172.6" class="cv" textLength="62.3" lengthAdjust="spacingAndGlyphs">Error rate : 0.00%</text>
<text x="34" y="209.8" class="pl">C</text>
<line x1="58.8" y1="220.7" x2="60.8" y2="220.7" class="tk"/>
<text x="58" y="223.5" class="tl" text-anchor="end" textLength="8.79" lengthAdjust="spacingAndGlyphs">40</text>
<line x1="58.8" y1="241.4" x2="60.8" y2="241.4" class="tk"/>
<text x="58" y="244.2" class="tl" text-anchor="end" textLength="8.79" lengthAdjust="spacingAndGlyphs">30</text>
<line x1="58.8" y1="262.1" x2="60.8" y2="262.1" class="tk"/>
<text x="58" y="264.9" class="tl" text-anchor="end" textLength="8.79" lengthAdjust="spacingAndGlyphs">20</text>
<line x1="58.8" y1="282.8" x2="60.8" y2="282.8" class="tk"/>
<text x="58" y="285.6" class="tl" text-anchor="end" textLength="8.79" lengthAdjust="spacingAndGlyphs">10</text>
<line x1="58.8" y1="303.5" x2="60.8" y2="303.5" class="tk"/>
<text x="58" y="306.3" class="tl" text-anchor="end" textLength="4.39" lengthAdjust="spacingAndGlyphs">0</text>
<line x1="58.8" y1="324.2" x2="60.8" y2="324.2" class="tk"/>
<text x="58" y="327" class="tl" text-anchor="end" textLength="11.42" lengthAdjust="spacingAndGlyphs">-10</text>
<line x1="81.8" y1="334.6" x2="81.8" y2="336.6" class="tk"/>
<text x="81.8" y="343.4" class="tl" text-anchor="middle" textLength="11.42" lengthAdjust="spacingAndGlyphs">-20</text>
<line x1="125.8" y1="334.6" x2="125.8" y2="336.6" class="tk"/>
<text x="125.8" y="343.4" class="tl" text-anchor="middle" textLength="4.39" lengthAdjust="spacingAndGlyphs">0</text>
<line x1="169.8" y1="334.6" x2="169.8" y2="336.6" class="tk"/>
<text x="169.8" y="343.4" class="tl" text-anchor="middle" textLength="8.79" lengthAdjust="spacingAndGlyphs">20</text>
<line x1="213.8" y1="334.6" x2="213.8" y2="336.6" class="tk"/>
<text x="213.8" y="343.4" class="tl" text-anchor="middle" textLength="8.79" lengthAdjust="spacingAndGlyphs">40</text>
<line x1="60.8" y1="209.7" x2="60.8" y2="334.6" class="ax"/>
<line x1="60.8" y1="334.6" x2="229" y2="334.6" class="ax"/>
<text x="131.7" y="351.4" class="at" textLength="21.2" lengthAdjust="spacingAndGlyphs">DF Y</text>
<text x="153.9" y="354.6" class="sub" textLength="5.4" lengthAdjust="spacingAndGlyphs">31</text>
<g transform="translate(41,293) rotate(-90)"><text x="0" y="0" class="at">Y</text><text x="6.8" y="3.8" class="sub" textLength="5.3" lengthAdjust="spacingAndGlyphs">32</text></g>
<text x="177" y="319.8" class="cv" textLength="43.5" lengthAdjust="spacingAndGlyphs">CV<tspan class="csub" dy="1.8">3</tspan><tspan dy="-1.8"> : 99.5%</tspan></text>
<text x="168.7" y="328.7" class="cv" textLength="62.3" lengthAdjust="spacingAndGlyphs">Error rate : 1.43%</text>
<text x="249" y="203.3" class="pl">D</text>
<line x1="264.6" y1="210.3" x2="266.6" y2="210.3" class="tk"/>
<text x="263.8" y="213.1" class="tl" text-anchor="end" textLength="8.79" lengthAdjust="spacingAndGlyphs">30</text>
<line x1="264.6" y1="241.3" x2="266.6" y2="241.3" class="tk"/>
<text x="263.8" y="244.1" class="tl" text-anchor="end" textLength="8.79" lengthAdjust="spacingAndGlyphs">20</text>
<line x1="264.6" y1="272.3" x2="266.6" y2="272.3" class="tk"/>
<text x="263.8" y="275.1" class="tl" text-anchor="end" textLength="8.79" lengthAdjust="spacingAndGlyphs">10</text>
<line x1="264.6" y1="303.3" x2="266.6" y2="303.3" class="tk"/>
<text x="263.8" y="306.1" class="tl" text-anchor="end" textLength="4.39" lengthAdjust="spacingAndGlyphs">0</text>
<line x1="264.6" y1="334.3" x2="266.6" y2="334.3" class="tk"/>
<text x="263.8" y="337.1" class="tl" text-anchor="end" textLength="11.42" lengthAdjust="spacingAndGlyphs">-10</text>
<line x1="266.7" y1="334.9" x2="266.7" y2="336.9" class="tk"/>
<text x="266.7" y="343.7" class="tl" text-anchor="middle" textLength="11.42" lengthAdjust="spacingAndGlyphs">-20</text>
<line x1="297.3" y1="334.9" x2="297.3" y2="336.9" class="tk"/>
<text x="297.3" y="343.7" class="tl" text-anchor="middle" textLength="11.42" lengthAdjust="spacingAndGlyphs">-10</text>
<line x1="327.9" y1="334.9" x2="327.9" y2="336.9" class="tk"/>
<text x="327.9" y="343.7" class="tl" text-anchor="middle" textLength="4.39" lengthAdjust="spacingAndGlyphs">0</text>
<line x1="358.5" y1="334.9" x2="358.5" y2="336.9" class="tk"/>
<text x="358.5" y="343.7" class="tl" text-anchor="middle" textLength="8.79" lengthAdjust="spacingAndGlyphs">10</text>
<line x1="389.1" y1="334.9" x2="389.1" y2="336.9" class="tk"/>
<text x="389.1" y="343.7" class="tl" text-anchor="middle" textLength="8.79" lengthAdjust="spacingAndGlyphs">20</text>
<line x1="419.7" y1="334.9" x2="419.7" y2="336.9" class="tk"/>
<text x="419.7" y="343.7" class="tl" text-anchor="middle" textLength="8.79" lengthAdjust="spacingAndGlyphs">30</text>
<line x1="266.6" y1="209.1" x2="266.6" y2="334.9" class="ax"/>
<line x1="266.6" y1="334.9" x2="435" y2="334.9" class="ax"/>
<text x="339.5" y="354" class="at" textLength="21.2" lengthAdjust="spacingAndGlyphs">DF Y</text>
<text x="361.7" y="357.2" class="sub" textLength="5.4" lengthAdjust="spacingAndGlyphs">41</text>
<g transform="translate(245,292.1) rotate(-90)"><text x="0" y="0" class="at">Y</text><text x="6.8" y="3.8" class="sub" textLength="5.3" lengthAdjust="spacingAndGlyphs">42</text></g>
<text x="381.5" y="319.5" class="cv" textLength="43.5" lengthAdjust="spacingAndGlyphs">CV<tspan class="csub" dy="1.8">4</tspan><tspan dy="-1.8"> : 96.3%</tspan></text>
<text x="373.2" y="329" class="cv" textLength="62.3" lengthAdjust="spacingAndGlyphs">Error rate : 1.43%</text>
<text x="34.5" y="361.4" class="pl">E</text>
<line x1="58.3" y1="369.1" x2="60.3" y2="369.1" class="tk"/>
<text x="57.5" y="371.9" class="tl" text-anchor="end" textLength="8.79" lengthAdjust="spacingAndGlyphs">30</text>
<line x1="58.3" y1="399.9" x2="60.3" y2="399.9" class="tk"/>
<text x="57.5" y="402.7" class="tl" text-anchor="end" textLength="8.79" lengthAdjust="spacingAndGlyphs">20</text>
<line x1="58.3" y1="430.7" x2="60.3" y2="430.7" class="tk"/>
<text x="57.5" y="433.5" class="tl" text-anchor="end" textLength="8.79" lengthAdjust="spacingAndGlyphs">10</text>
<line x1="58.3" y1="461.5" x2="60.3" y2="461.5" class="tk"/>
<text x="57.5" y="464.3" class="tl" text-anchor="end" textLength="4.39" lengthAdjust="spacingAndGlyphs">0</text>
<line x1="58.3" y1="492.3" x2="60.3" y2="492.3" class="tk"/>
<text x="57.5" y="495.1" class="tl" text-anchor="end" textLength="11.42" lengthAdjust="spacingAndGlyphs">-10</text>
<line x1="60.8" y1="492.6" x2="60.8" y2="494.6" class="tk"/>
<text x="60.8" y="501.4" class="tl" text-anchor="middle" textLength="11.42" lengthAdjust="spacingAndGlyphs">-20</text>
<line x1="91.4" y1="492.6" x2="91.4" y2="494.6" class="tk"/>
<text x="91.4" y="501.4" class="tl" text-anchor="middle" textLength="11.42" lengthAdjust="spacingAndGlyphs">-10</text>
<line x1="122" y1="492.6" x2="122" y2="494.6" class="tk"/>
<text x="122" y="501.4" class="tl" text-anchor="middle" textLength="4.39" lengthAdjust="spacingAndGlyphs">0</text>
<line x1="152.6" y1="492.6" x2="152.6" y2="494.6" class="tk"/>
<text x="152.6" y="501.4" class="tl" text-anchor="middle" textLength="8.79" lengthAdjust="spacingAndGlyphs">10</text>
<line x1="183.2" y1="492.6" x2="183.2" y2="494.6" class="tk"/>
<text x="183.2" y="501.4" class="tl" text-anchor="middle" textLength="8.79" lengthAdjust="spacingAndGlyphs">20</text>
<line x1="213.8" y1="492.6" x2="213.8" y2="494.6" class="tk"/>
<text x="213.8" y="501.4" class="tl" text-anchor="middle" textLength="8.79" lengthAdjust="spacingAndGlyphs">30</text>
<line x1="60.3" y1="367.7" x2="60.3" y2="492.6" class="ax"/>
<line x1="60.3" y1="492.6" x2="229" y2="492.6" class="ax"/>
<text x="138.6" y="511.9" class="at" textLength="21.2" lengthAdjust="spacingAndGlyphs">DF Y</text>
<text x="160.8" y="515.1" class="sub" textLength="5.4" lengthAdjust="spacingAndGlyphs">51</text>
<g transform="translate(41.7,442.8) rotate(-90)"><text x="0" y="0" class="at">Y</text><text x="6.8" y="3.8" class="sub" textLength="5.3" lengthAdjust="spacingAndGlyphs">52</text></g>
<text x="177" y="477" class="cv" textLength="43.5" lengthAdjust="spacingAndGlyphs">CV<tspan class="csub" dy="1.8">5</tspan><tspan dy="-1.8"> : 98.3%</tspan></text>
<text x="168.2" y="487" class="cv" textLength="62.3" lengthAdjust="spacingAndGlyphs">Error rate : 0.00%</text>
<text x="249" y="360" class="pl">F</text>
<line x1="264.4" y1="368.5" x2="266.4" y2="368.5" class="tk"/>
<text x="263.6" y="371.3" class="tl" text-anchor="end" textLength="8.79" lengthAdjust="spacingAndGlyphs">30</text>
<line x1="264.4" y1="395.9" x2="266.4" y2="395.9" class="tk"/>
<text x="263.6" y="398.7" class="tl" text-anchor="end" textLength="8.79" lengthAdjust="spacingAndGlyphs">20</text>
<line x1="264.4" y1="423.3" x2="266.4" y2="423.3" class="tk"/>
<text x="263.6" y="426.1" class="tl" text-anchor="end" textLength="8.79" lengthAdjust="spacingAndGlyphs">10</text>
<line x1="264.4" y1="450.7" x2="266.4" y2="450.7" class="tk"/>
<text x="263.6" y="453.5" class="tl" text-anchor="end" textLength="4.39" lengthAdjust="spacingAndGlyphs">0</text>
<line x1="264.4" y1="478.1" x2="266.4" y2="478.1" class="tk"/>
<text x="263.6" y="480.9" class="tl" text-anchor="end" textLength="11.42" lengthAdjust="spacingAndGlyphs">-10</text>
<line x1="266.6" y1="492.6" x2="266.6" y2="494.6" class="tk"/>
<text x="266.6" y="501.4" class="tl" text-anchor="middle" textLength="11.42" lengthAdjust="spacingAndGlyphs">-20</text>
<line x1="297.2" y1="492.6" x2="297.2" y2="494.6" class="tk"/>
<text x="297.2" y="501.4" class="tl" text-anchor="middle" textLength="11.42" lengthAdjust="spacingAndGlyphs">-10</text>
<line x1="327.8" y1="492.6" x2="327.8" y2="494.6" class="tk"/>
<text x="327.8" y="501.4" class="tl" text-anchor="middle" textLength="4.39" lengthAdjust="spacingAndGlyphs">0</text>
<line x1="358.4" y1="492.6" x2="358.4" y2="494.6" class="tk"/>
<text x="358.4" y="501.4" class="tl" text-anchor="middle" textLength="8.79" lengthAdjust="spacingAndGlyphs">10</text>
<line x1="389" y1="492.6" x2="389" y2="494.6" class="tk"/>
<text x="389" y="501.4" class="tl" text-anchor="middle" textLength="8.79" lengthAdjust="spacingAndGlyphs">20</text>
<line x1="419.6" y1="492.6" x2="419.6" y2="494.6" class="tk"/>
<text x="419.6" y="501.4" class="tl" text-anchor="middle" textLength="8.79" lengthAdjust="spacingAndGlyphs">30</text>
<line x1="266.4" y1="367.7" x2="266.4" y2="492.6" class="ax"/>
<line x1="266.4" y1="492.6" x2="435.4" y2="492.6" class="ax"/>
<text x="340.5" y="513" class="at" textLength="21.2" lengthAdjust="spacingAndGlyphs">DF Y</text>
<text x="362.7" y="516.2" class="sub" textLength="5.4" lengthAdjust="spacingAndGlyphs">61</text>
<g transform="translate(248,442.1) rotate(-90)"><text x="0" y="0" class="at">Y</text><text x="6.8" y="3.8" class="sub" textLength="5.3" lengthAdjust="spacingAndGlyphs">62</text></g>
<text x="381.5" y="477.4" class="cv" textLength="43.5" lengthAdjust="spacingAndGlyphs">CV<tspan class="csub" dy="1.8">6</tspan><tspan dy="-1.8"> : 97.5%</tspan></text>
<text x="373.2" y="487.7" class="cv" textLength="62.3" lengthAdjust="spacingAndGlyphs">Error rate : 0.71%</text>
</svg></body></html>
